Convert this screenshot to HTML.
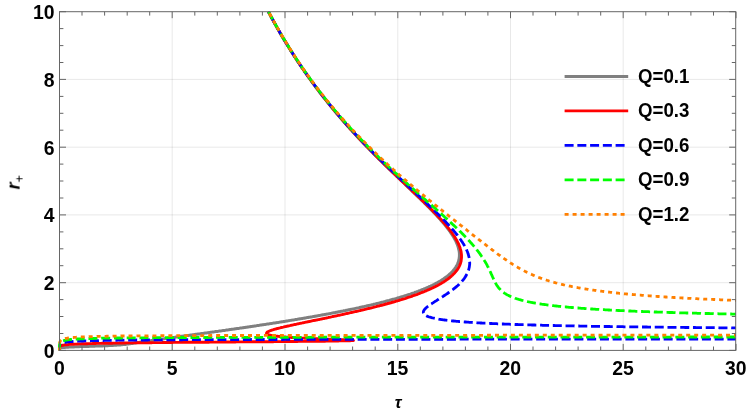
<!DOCTYPE html>
<html><head><meta charset="utf-8"><title>plot</title>
<style>
html,body{margin:0;padding:0;background:#fff;}
body{width:747px;height:413px;overflow:hidden;font-family:"Liberation Sans",sans-serif;}
svg{display:block}
text{font-family:"Liberation Sans",sans-serif;font-weight:bold;fill:#000}
</style></head><body>
<svg width="747" height="413" viewBox="0 0 747 413">
<rect width="747" height="413" fill="#fff"/>
<defs><clipPath id="c"><rect x="57.5" y="9.7" width="679.0" height="342.7"/></clipPath></defs>
<g stroke="#000" stroke-opacity="0.09" stroke-width="1"><line x1="172.2" y1="11.7" x2="172.2" y2="350.4"/><line x1="285.0" y1="11.7" x2="285.0" y2="350.4"/><line x1="397.8" y1="11.7" x2="397.8" y2="350.4"/><line x1="510.5" y1="11.7" x2="510.5" y2="350.4"/><line x1="623.2" y1="11.7" x2="623.2" y2="350.4"/><line x1="59.5" y1="282.7" x2="736.0" y2="282.7"/><line x1="59.5" y1="214.9" x2="736.0" y2="214.9"/><line x1="59.5" y1="147.2" x2="736.0" y2="147.2"/><line x1="59.5" y1="79.4" x2="736.0" y2="79.4"/></g>
<g clip-path="url(#c)" fill="none" stroke-linejoin="round">
<path d="M59.5 350.3 L59.5 349.5 L59.6 348.7 L60.1 348.2 L60.9 347.9 L61.7 347.7 L62.5 347.6 L63.3 347.5 L64.1 347.4 L64.9 347.4 L65.7 347.3 L66.5 347.3 L67.4 347.2 L68.2 347.2 L69.0 347.1 L69.8 347.1 L70.6 347.0 L71.5 347.0 L72.3 346.9 L73.1 346.9 L74.0 346.9 L74.8 346.8 L75.7 346.8 L76.6 346.8 L77.4 346.7 L78.3 346.7 L79.2 346.7 L80.0 346.6 L80.9 346.6 L81.7 346.6 L82.5 346.6 L83.4 346.5 L84.2 346.5 L85.1 346.5 L86.0 346.4 L86.9 346.4 L87.8 346.4 L88.7 346.4 L89.6 346.3 L90.6 346.3 L91.5 346.3 L92.3 346.2 L93.1 346.2 L93.9 346.2 L94.7 346.2 L95.5 346.1 L96.4 346.1 L97.4 346.1 L98.3 346.0 L99.2 346.0 L100.1 346.0 L101.0 345.9 L101.9 345.9 L102.7 345.9 L103.6 345.8 L104.4 345.8 L105.3 345.8 L106.1 345.7 L106.9 345.7 L107.8 345.7 L108.7 345.6 L109.5 345.6 L110.4 345.5 L111.2 345.5 L112.1 345.4 L112.9 345.4 L113.8 345.3 L114.6 345.3 L115.4 345.2 L116.3 345.2 L117.1 345.1 L117.9 345.1 L118.7 345.0 L119.6 344.9 L120.4 344.9 L121.3 344.8 L122.1 344.7 L123.0 344.6 L123.8 344.5 L124.6 344.4 L125.4 344.4 L126.2 344.3 L127.1 344.1 L127.9 344.0 L128.7 343.9 L129.5 343.8 L130.3 343.7 L131.1 343.6 L131.9 343.5 L132.7 343.4 L133.5 343.2 L134.3 343.1 L135.1 343.0 L136.0 342.9 L136.8 342.7 L137.6 342.6 L138.4 342.5 L139.2 342.4 L140.0 342.2 L140.8 342.1 L141.6 342.0 L142.5 341.9 L143.3 341.8 L144.1 341.6 L144.9 341.5 L145.7 341.4 L146.6 341.3 L147.4 341.1 L148.2 341.0 L149.0 340.9 L149.8 340.8 L150.7 340.7 L151.5 340.5 L152.3 340.4 L153.1 340.3 L153.9 340.2 L154.8 340.1 L155.6 339.9 L156.5 339.8 L157.3 339.7 L158.1 339.6 L158.9 339.5 L159.7 339.4 L160.6 339.2 L161.4 339.1 L162.3 339.0 L163.1 338.9 L164.0 338.8 L164.8 338.6 L165.6 338.5 L166.5 338.4 L167.3 338.3 L168.1 338.2 L169.0 338.1 L169.8 338.0 L170.7 337.8 L171.6 337.7 L172.4 337.6 L173.2 337.5 L174.0 337.4 L174.8 337.3 L175.7 337.1 L176.5 337.0 L177.3 336.9 L178.1 336.8 L179.0 336.7 L179.8 336.6 L180.7 336.5 L181.6 336.3 L182.4 336.2 L183.3 336.1 L184.2 336.0 L185.1 335.8 L186.0 335.7 L186.8 335.6 L187.6 335.5 L188.4 335.4 L189.3 335.3 L190.1 335.2 L190.9 335.0 L191.7 334.9 L192.6 334.8 L193.4 334.7 L194.3 334.6 L195.1 334.5 L196.0 334.3 L196.9 334.2 L197.8 334.1 L198.6 334.0 L199.5 333.9 L200.4 333.7 L201.3 333.6 L202.2 333.5 L203.2 333.4 L204.1 333.2 L204.9 333.1 L205.7 333.0 L206.5 332.9 L207.3 332.8 L208.1 332.7 L208.9 332.6 L209.7 332.4 L210.6 332.3 L211.4 332.2 L212.2 332.1 L213.1 332.0 L213.9 331.9 L214.8 331.7 L215.6 331.6 L216.5 331.5 L217.3 331.4 L218.2 331.3 L219.1 331.1 L220.0 331.0 L220.8 330.9 L221.7 330.8 L222.6 330.6 L223.5 330.5 L224.4 330.4 L225.3 330.3 L226.2 330.1 L227.1 330.0 L228.1 329.9 L229.0 329.7 L229.9 329.6 L230.8 329.5 L231.8 329.3 L232.7 329.2 L233.7 329.1 L234.5 329.0 L235.3 328.8 L236.1 328.7 L236.9 328.6 L237.7 328.5 L238.5 328.4 L239.3 328.3 L240.1 328.1 L240.9 328.0 L241.8 327.9 L242.6 327.8 L243.4 327.7 L244.2 327.5 L245.1 327.4 L245.9 327.3 L246.8 327.2 L247.6 327.0 L248.4 326.9 L249.3 326.8 L250.1 326.7 L251.0 326.5 L251.9 326.4 L252.7 326.3 L253.6 326.2 L254.5 326.0 L255.3 325.9 L256.2 325.8 L257.1 325.6 L258.0 325.5 L258.9 325.4 L259.7 325.2 L260.6 325.1 L261.5 325.0 L262.4 324.8 L263.3 324.7 L264.2 324.6 L265.1 324.4 L266.0 324.3 L266.9 324.1 L267.9 324.0 L268.8 323.9 L269.7 323.7 L270.6 323.6 L271.5 323.4 L272.5 323.3 L273.4 323.1 L274.3 323.0 L275.3 322.9 L276.2 322.7 L277.1 322.6 L278.1 322.4 L279.0 322.3 L280.0 322.1 L280.9 322.0 L281.9 321.8 L282.8 321.7 L283.8 321.5 L284.8 321.4 L285.7 321.2 L286.7 321.0 L287.7 320.9 L288.6 320.7 L289.6 320.6 L290.6 320.4 L291.6 320.2 L292.6 320.1 L293.5 319.9 L294.5 319.8 L295.3 319.6 L296.1 319.5 L296.9 319.4 L297.7 319.2 L298.5 319.1 L299.3 319.0 L300.1 318.8 L300.9 318.7 L301.7 318.6 L302.5 318.4 L303.3 318.3 L304.1 318.2 L304.9 318.0 L305.7 317.9 L306.5 317.7 L307.3 317.6 L308.1 317.5 L309.0 317.3 L309.8 317.2 L310.6 317.0 L311.4 316.9 L312.2 316.8 L313.0 316.6 L313.9 316.5 L314.7 316.3 L315.5 316.2 L316.3 316.0 L317.1 315.9 L318.0 315.7 L318.8 315.6 L319.6 315.4 L320.4 315.3 L321.3 315.1 L322.1 315.0 L322.9 314.8 L323.7 314.7 L324.6 314.5 L325.4 314.4 L326.2 314.2 L327.1 314.1 L327.9 313.9 L328.7 313.8 L329.6 313.6 L330.4 313.4 L331.2 313.3 L332.1 313.1 L332.9 313.0 L333.7 312.8 L334.6 312.7 L335.4 312.5 L336.3 312.3 L337.1 312.2 L337.9 312.0 L338.8 311.8 L339.6 311.7 L340.4 311.5 L341.3 311.3 L342.1 311.2 L343.0 311.0 L343.8 310.8 L344.6 310.7 L345.5 310.5 L346.3 310.3 L347.2 310.2 L348.0 310.0 L348.8 309.8 L349.7 309.6 L350.5 309.5 L351.3 309.3 L352.2 309.1 L353.0 308.9 L353.9 308.8 L354.7 308.6 L355.5 308.4 L356.4 308.2 L357.2 308.1 L358.0 307.9 L358.9 307.7 L359.7 307.5 L360.5 307.3 L361.4 307.1 L362.2 307.0 L363.0 306.8 L363.9 306.6 L364.7 306.4 L365.5 306.2 L366.4 306.0 L367.2 305.8 L368.0 305.6 L368.8 305.5 L369.7 305.3 L370.5 305.1 L371.3 304.9 L372.1 304.7 L373.0 304.5 L373.8 304.3 L374.6 304.1 L375.4 303.9 L376.2 303.7 L377.0 303.5 L377.9 303.3 L378.7 303.1 L379.5 302.9 L380.3 302.7 L381.1 302.5 L381.9 302.3 L382.7 302.1 L383.5 301.9 L384.3 301.7 L385.1 301.5 L385.9 301.2 L386.7 301.0 L387.5 300.8 L388.3 300.6 L389.1 300.4 L389.8 300.2 L390.6 300.0 L391.4 299.8 L392.2 299.5 L393.0 299.3 L393.8 299.1 L394.5 298.9 L395.3 298.7 L396.3 298.4 L397.2 298.1 L398.2 297.8 L399.1 297.6 L400.1 297.3 L401.0 297.0 L401.9 296.7 L402.9 296.4 L403.8 296.1 L404.7 295.8 L405.6 295.6 L406.6 295.3 L407.5 295.0 L408.4 294.7 L409.3 294.4 L410.2 294.1 L411.0 293.8 L411.9 293.5 L412.8 293.2 L413.7 292.9 L414.5 292.6 L415.4 292.2 L416.3 291.9 L417.1 291.6 L418.0 291.3 L418.8 291.0 L419.6 290.7 L420.5 290.4 L421.3 290.0 L422.1 289.7 L422.9 289.4 L423.7 289.1 L424.5 288.7 L425.3 288.4 L426.0 288.1 L426.8 287.7 L427.6 287.4 L428.3 287.1 L429.1 286.7 L429.8 286.4 L430.6 286.1 L431.3 285.7 L432.2 285.3 L433.0 284.9 L433.9 284.5 L434.7 284.0 L435.5 283.6 L436.3 283.2 L437.1 282.8 L437.9 282.3 L438.7 281.9 L439.4 281.4 L440.2 281.0 L440.9 280.6 L441.6 280.1 L442.4 279.7 L443.1 279.2 L443.7 278.8 L444.4 278.3 L445.1 277.8 L445.8 277.3 L446.5 276.7 L447.3 276.2 L448.0 275.6 L448.6 275.1 L449.3 274.5 L449.9 273.9 L450.5 273.4 L451.1 272.8 L451.7 272.2 L452.3 271.6 L452.9 271.0 L453.5 270.3 L454.0 269.6 L454.6 268.9 L455.1 268.2 L455.6 267.5 L456.0 266.8 L456.4 266.1 L456.8 265.4 L457.2 264.6 L457.6 263.9 L457.9 263.2 L458.2 262.3 L458.5 261.5 L458.7 260.6 L458.9 259.7 L459.1 258.9 L459.2 258.0 L459.3 257.1 L459.4 256.3 L459.4 255.5 L459.4 254.7 L459.4 253.9 L459.4 253.0 L459.3 252.2 L459.2 251.4 L459.0 250.5 L458.8 249.7 L458.6 248.8 L458.4 247.9 L458.2 247.1 L457.9 246.3 L457.6 245.5 L457.4 244.7 L457.0 243.9 L456.7 243.1 L456.3 242.3 L456.0 241.5 L455.6 240.7 L455.2 239.9 L454.8 239.2 L454.4 238.5 L454.0 237.8 L453.6 237.0 L453.1 236.3 L452.7 235.6 L452.2 234.8 L451.7 234.1 L451.2 233.4 L450.7 232.6 L450.2 231.8 L449.6 231.1 L449.1 230.3 L448.5 229.6 L448.0 228.9 L447.5 228.3 L447.0 227.6 L446.5 227.0 L446.0 226.3 L445.5 225.6 L444.9 225.0 L444.4 224.3 L443.8 223.6 L443.2 222.9 L442.7 222.3 L442.1 221.6 L441.5 220.9 L440.9 220.2 L440.3 219.5 L439.6 218.8 L439.0 218.1 L438.4 217.4 L437.7 216.7 L437.1 216.0 L436.4 215.3 L435.7 214.5 L435.0 213.8 L434.5 213.2 L433.9 212.6 L433.4 212.1 L432.8 211.5 L432.2 210.9 L431.6 210.3 L431.1 209.7 L430.5 209.1 L429.9 208.5 L429.3 207.9 L428.7 207.3 L428.1 206.7 L427.5 206.0 L426.9 205.4 L426.2 204.8 L425.6 204.2 L425.0 203.6 L424.3 202.9 L423.7 202.3 L423.1 201.7 L422.4 201.0 L421.8 200.4 L421.1 199.8 L420.5 199.1 L419.8 198.5 L419.1 197.8 L418.4 197.2 L417.8 196.5 L417.1 195.9 L416.4 195.2 L415.7 194.5 L415.0 193.9 L414.3 193.2 L413.6 192.5 L412.9 191.9 L412.2 191.2 L411.5 190.5 L410.8 189.8 L410.1 189.1 L409.4 188.4 L408.7 187.8 L407.9 187.1 L407.2 186.4 L406.5 185.7 L405.7 185.0 L405.0 184.3 L404.2 183.5 L403.5 182.8 L402.8 182.1 L402.0 181.4 L401.2 180.7 L400.5 180.0 L399.7 179.2 L399.0 178.5 L398.2 177.8 L397.4 177.0 L396.9 176.5 L396.3 175.9 L395.7 175.4 L395.1 174.8 L394.5 174.2 L394.0 173.7 L393.4 173.1 L392.8 172.5 L392.2 172.0 L391.6 171.4 L391.0 170.8 L390.4 170.3 L389.8 169.7 L389.2 169.1 L388.6 168.5 L388.0 167.9 L387.4 167.4 L386.8 166.8 L386.2 166.2 L385.6 165.6 L385.0 165.0 L384.4 164.4 L383.8 163.8 L383.2 163.2 L382.6 162.6 L382.0 162.0 L381.4 161.4 L380.8 160.8 L380.2 160.2 L379.6 159.6 L378.9 159.0 L378.3 158.4 L377.7 157.8 L377.1 157.1 L376.5 156.5 L375.9 155.9 L375.2 155.3 L374.6 154.7 L374.0 154.0 L373.4 153.4 L372.8 152.8 L372.1 152.1 L371.5 151.5 L370.9 150.9 L370.3 150.2 L369.6 149.6 L369.0 148.9 L368.4 148.3 L367.8 147.7 L367.1 147.0 L366.5 146.4 L365.9 145.7 L365.3 145.0 L364.6 144.4 L364.0 143.7 L363.4 143.1 L362.7 142.4 L362.1 141.7 L361.5 141.1 L360.8 140.4 L360.2 139.7 L359.6 139.1 L358.9 138.4 L358.3 137.7 L357.7 137.0 L357.0 136.3 L356.4 135.7 L355.8 135.0 L355.1 134.3 L354.5 133.6 L353.9 132.9 L353.2 132.2 L352.6 131.5 L352.0 130.8 L351.3 130.1 L350.7 129.4 L350.0 128.7 L349.4 128.0 L348.8 127.3 L348.1 126.6 L347.5 125.8 L346.9 125.1 L346.2 124.4 L345.6 123.7 L344.9 122.9 L344.3 122.2 L343.7 121.5 L343.0 120.8 L342.4 120.0 L341.7 119.3 L341.1 118.5 L340.5 117.8 L339.8 117.1 L339.2 116.3 L338.6 115.6 L337.9 114.8 L337.3 114.1 L336.6 113.3 L336.0 112.5 L335.4 111.8 L334.7 111.0 L334.1 110.3 L333.5 109.5 L332.8 108.7 L332.2 107.9 L331.5 107.2 L330.9 106.4 L330.3 105.6 L329.6 104.8 L329.0 104.0 L328.4 103.3 L327.7 102.5 L327.1 101.7 L326.5 100.9 L325.8 100.1 L325.2 99.3 L324.6 98.5 L323.9 97.7 L323.3 96.9 L322.7 96.0 L322.0 95.2 L321.4 94.4 L320.8 93.6 L320.1 92.8 L319.5 92.0 L318.9 91.1 L318.2 90.3 L317.6 89.5 L317.0 88.6 L316.3 87.8 L315.7 87.0 L315.1 86.1 L314.5 85.3 L313.8 84.4 L313.2 83.6 L312.6 82.7 L312.0 81.9 L311.3 81.0 L310.7 80.1 L310.1 79.3 L309.5 78.4 L308.8 77.5 L308.2 76.7 L307.6 75.8 L307.0 74.9 L306.4 74.0 L305.7 73.1 L305.1 72.3 L304.5 71.4 L303.9 70.5 L303.3 69.6 L302.6 68.7 L302.0 67.8 L301.4 66.9 L300.8 66.0 L300.2 65.1 L299.6 64.1 L299.0 63.2 L298.3 62.3 L297.7 61.4 L297.1 60.5 L296.5 59.5 L295.9 58.6 L295.3 57.7 L294.7 56.7 L294.1 55.8 L293.5 54.8 L292.9 53.9 L292.3 53.0 L291.7 52.0 L291.1 51.0 L290.5 50.1 L289.9 49.1 L289.3 48.2 L288.7 47.2 L288.1 46.2 L287.5 45.3 L286.9 44.3 L286.3 43.3 L285.7 42.3 L285.1 41.3 L284.5 40.3 L283.9 39.4 L283.3 38.4 L282.7 37.4 L282.1 36.4 L281.5 35.4 L280.9 34.3 L280.3 33.3 L279.7 32.3 L279.2 31.3 L278.6 30.3 L278.0 29.3 L277.4 28.2 L276.8 27.2 L276.2 26.2 L275.7 25.1 L275.1 24.1 L274.5 23.0 L273.9 22.0 L273.3 20.9 L273.0 20.2 L272.6 19.5 L272.2 18.8 L271.8 18.1 L271.4 17.4 L271.0 16.7 L270.7 16.0 L270.3 15.3 L269.9 14.6 L269.5 13.9 L269.1 13.1 L268.8 12.4 L268.4 11.7" stroke="#808080" stroke-width="3.0"/>
<path d="M59.5 350.3 L59.5 349.5 L59.5 348.7 L59.5 347.9 L59.6 347.1 L60.0 346.4 L60.6 345.9 L61.4 345.6 L62.1 345.4 L62.9 345.2 L63.7 345.1 L64.5 344.9 L65.4 344.8 L66.2 344.7 L67.1 344.7 L67.9 344.6 L68.7 344.5 L69.5 344.4 L70.3 344.4 L71.2 344.3 L72.1 344.3 L73.0 344.2 L73.8 344.2 L74.8 344.1 L75.6 344.1 L76.5 344.1 L77.4 344.0 L78.2 344.0 L79.1 343.9 L80.0 343.9 L80.9 343.9 L81.9 343.8 L82.7 343.8 L83.6 343.8 L84.5 343.8 L85.4 343.7 L86.3 343.7 L87.3 343.7 L88.4 343.6 L89.4 343.6 L90.3 343.6 L91.1 343.6 L92.0 343.6 L92.9 343.5 L93.8 343.5 L94.8 343.5 L95.7 343.5 L96.8 343.4 L97.8 343.4 L98.9 343.4 L100.0 343.4 L101.1 343.4 L102.2 343.3 L103.4 343.3 L104.2 343.3 L105.1 343.3 L105.9 343.3 L106.8 343.2 L107.6 343.2 L108.5 343.2 L109.4 343.2 L110.4 343.2 L111.3 343.2 L112.2 343.2 L113.2 343.1 L114.2 343.1 L115.2 343.1 L116.2 343.1 L117.3 343.1 L118.3 343.1 L119.4 343.0 L120.5 343.0 L121.6 343.0 L122.8 343.0 L123.9 343.0 L125.1 343.0 L126.3 342.9 L127.5 342.9 L128.8 342.9 L130.0 342.9 L131.3 342.9 L132.6 342.9 L133.9 342.9 L135.3 342.8 L136.6 342.8 L138.0 342.8 L139.4 342.8 L140.9 342.8 L142.3 342.8 L143.8 342.7 L145.3 342.7 L146.8 342.7 L148.4 342.7 L150.0 342.7 L151.6 342.7 L152.4 342.6 L153.2 342.6 L154.0 342.6 L154.8 342.6 L155.6 342.6 L156.5 342.6 L157.3 342.6 L158.2 342.6 L159.0 342.6 L159.9 342.6 L160.7 342.6 L161.6 342.6 L162.5 342.5 L163.4 342.5 L164.3 342.5 L165.1 342.5 L166.0 342.5 L166.9 342.5 L167.9 342.5 L168.8 342.5 L169.7 342.5 L170.6 342.5 L171.6 342.5 L172.5 342.5 L173.4 342.4 L174.4 342.4 L175.4 342.4 L176.3 342.4 L177.3 342.4 L178.3 342.4 L179.2 342.4 L180.2 342.4 L181.2 342.4 L182.2 342.4 L183.2 342.4 L184.2 342.4 L185.2 342.3 L186.2 342.3 L187.3 342.3 L188.3 342.3 L189.3 342.3 L190.4 342.3 L191.4 342.3 L192.5 342.3 L193.5 342.3 L194.6 342.3 L195.6 342.3 L196.7 342.3 L197.8 342.2 L198.9 342.2 L199.9 342.2 L201.0 342.2 L202.1 342.2 L203.2 342.2 L204.3 342.2 L205.4 342.2 L206.5 342.2 L207.6 342.2 L208.7 342.2 L209.9 342.1 L211.0 342.1 L212.1 342.1 L213.3 342.1 L214.4 342.1 L215.5 342.1 L216.7 342.1 L217.8 342.1 L219.0 342.1 L220.1 342.1 L221.3 342.1 L222.4 342.0 L223.6 342.0 L224.7 342.0 L225.9 342.0 L227.1 342.0 L228.2 342.0 L229.4 342.0 L230.6 342.0 L231.8 342.0 L232.9 342.0 L234.1 342.0 L235.3 342.0 L236.5 341.9 L237.7 341.9 L238.9 341.9 L240.0 341.9 L241.2 341.9 L242.4 341.9 L243.6 341.9 L244.8 341.9 L246.0 341.9 L247.2 341.9 L248.4 341.9 L249.5 341.8 L250.7 341.8 L251.9 341.8 L253.1 341.8 L254.3 341.8 L255.5 341.8 L256.7 341.8 L257.8 341.8 L259.0 341.8 L260.2 341.8 L261.4 341.8 L262.6 341.7 L263.7 341.7 L264.9 341.7 L266.1 341.7 L267.3 341.7 L268.4 341.7 L269.6 341.7 L270.7 341.7 L271.9 341.7 L273.1 341.7 L274.2 341.6 L275.4 341.6 L276.5 341.6 L277.6 341.6 L278.8 341.6 L279.9 341.6 L281.0 341.6 L282.1 341.6 L283.3 341.6 L284.4 341.6 L285.5 341.6 L286.6 341.5 L287.7 341.5 L288.8 341.5 L289.9 341.5 L290.9 341.5 L292.0 341.5 L293.1 341.5 L294.1 341.5 L295.2 341.5 L296.2 341.5 L297.3 341.5 L298.3 341.4 L299.4 341.4 L300.4 341.4 L301.4 341.4 L302.4 341.4 L303.4 341.4 L304.4 341.4 L305.4 341.4 L306.3 341.4 L307.3 341.4 L308.3 341.3 L309.2 341.3 L310.2 341.3 L311.1 341.3 L312.0 341.3 L312.9 341.3 L313.8 341.3 L314.7 341.3 L315.6 341.3 L316.5 341.3 L317.4 341.2 L318.2 341.2 L319.1 341.2 L319.9 341.2 L320.8 341.2 L321.6 341.2 L322.4 341.2 L323.2 341.2 L324.8 341.2 L326.3 341.1 L327.8 341.1 L329.3 341.1 L330.7 341.1 L332.1 341.1 L333.4 341.0 L334.7 341.0 L335.9 341.0 L337.1 341.0 L338.3 341.0 L339.4 340.9 L340.5 340.9 L341.5 340.9 L342.5 340.9 L343.4 340.9 L344.3 340.8 L345.2 340.8 L346.0 340.8 L347.1 340.8 L348.1 340.7 L349.1 340.7 L350.0 340.7 L351.0 340.6 L351.8 340.6 L352.7 340.5 L353.5 340.5 L352.7 340.1 L351.9 340.1 L351.0 340.0 L350.1 340.0 L349.2 339.9 L348.3 339.9 L347.3 339.8 L346.3 339.8 L345.3 339.7 L344.4 339.7 L343.6 339.7 L342.7 339.6 L341.8 339.6 L340.9 339.6 L340.0 339.5 L339.1 339.5 L338.1 339.5 L337.2 339.4 L336.2 339.4 L335.2 339.4 L334.3 339.3 L333.3 339.3 L332.3 339.3 L331.3 339.2 L330.3 339.2 L329.3 339.2 L328.3 339.1 L327.3 339.1 L326.3 339.0 L325.3 339.0 L324.3 339.0 L323.3 338.9 L322.3 338.9 L321.3 338.9 L320.3 338.8 L319.3 338.8 L318.4 338.7 L317.4 338.7 L316.4 338.7 L315.5 338.6 L314.5 338.6 L313.6 338.6 L312.7 338.5 L311.8 338.5 L310.8 338.4 L309.9 338.4 L309.1 338.4 L308.2 338.3 L307.3 338.3 L306.4 338.3 L305.6 338.2 L304.7 338.2 L303.9 338.1 L303.1 338.1 L302.2 338.1 L301.4 338.0 L300.4 338.0 L299.3 337.9 L298.3 337.9 L297.3 337.8 L296.3 337.8 L295.4 337.7 L294.4 337.6 L293.5 337.6 L292.6 337.5 L291.7 337.5 L290.8 337.4 L290.0 337.4 L289.2 337.3 L288.3 337.3 L287.4 337.2 L286.4 337.1 L285.5 337.0 L284.5 337.0 L283.7 336.9 L282.8 336.8 L282.0 336.8 L281.2 336.7 L280.3 336.6 L279.4 336.5 L278.5 336.4 L277.7 336.3 L276.8 336.2 L275.9 336.1 L275.1 336.0 L274.2 335.9 L273.4 335.8 L272.5 335.6 L271.7 335.5 L270.9 335.3 L270.1 335.1 L269.3 334.9 L268.5 334.7 L267.8 334.4 L267.1 334.1 L266.5 333.5 L266.7 332.7 L267.3 332.1 L268.0 331.7 L268.8 331.3 L269.5 331.0 L270.3 330.7 L271.0 330.5 L271.8 330.2 L272.7 329.9 L273.4 329.7 L274.3 329.4 L275.0 329.2 L275.8 329.0 L276.7 328.7 L277.5 328.5 L278.3 328.3 L279.1 328.1 L280.0 327.9 L280.7 327.7 L281.5 327.5 L282.3 327.3 L283.2 327.1 L284.0 326.9 L284.9 326.7 L285.8 326.5 L286.5 326.3 L287.3 326.2 L288.1 326.0 L288.9 325.8 L289.8 325.6 L290.6 325.4 L291.5 325.2 L292.3 325.1 L293.2 324.9 L294.1 324.7 L295.0 324.5 L295.9 324.3 L296.7 324.1 L297.5 323.9 L298.3 323.8 L299.1 323.6 L299.9 323.4 L300.7 323.3 L301.5 323.1 L302.4 322.9 L303.2 322.7 L304.1 322.6 L304.9 322.4 L305.8 322.2 L306.7 322.0 L307.5 321.8 L308.4 321.7 L309.3 321.5 L310.2 321.3 L311.1 321.1 L312.0 320.9 L312.9 320.7 L313.8 320.5 L314.8 320.3 L315.7 320.2 L316.6 320.0 L317.4 319.8 L318.2 319.6 L319.0 319.5 L319.8 319.3 L320.6 319.1 L321.4 319.0 L322.2 318.8 L323.0 318.6 L323.8 318.5 L324.7 318.3 L325.5 318.1 L326.3 318.0 L327.1 317.8 L328.0 317.6 L328.8 317.4 L329.6 317.3 L330.5 317.1 L331.3 316.9 L332.2 316.7 L333.0 316.5 L333.9 316.4 L334.7 316.2 L335.6 316.0 L336.4 315.8 L337.3 315.6 L338.2 315.4 L339.0 315.3 L339.9 315.1 L340.8 314.9 L341.7 314.7 L342.5 314.5 L343.4 314.3 L344.3 314.1 L345.2 313.9 L346.1 313.7 L347.0 313.5 L347.9 313.3 L348.8 313.1 L349.6 312.9 L350.5 312.7 L351.4 312.5 L352.3 312.3 L353.2 312.1 L354.1 311.9 L355.1 311.7 L356.0 311.5 L356.9 311.3 L357.8 311.1 L358.7 310.9 L359.6 310.7 L360.5 310.5 L361.4 310.2 L362.3 310.0 L363.2 309.8 L364.2 309.6 L365.1 309.4 L366.0 309.2 L366.9 308.9 L367.8 308.7 L368.7 308.5 L369.7 308.3 L370.6 308.1 L371.5 307.8 L372.4 307.6 L373.3 307.4 L374.2 307.1 L375.2 306.9 L376.1 306.7 L377.0 306.4 L377.9 306.2 L378.8 306.0 L379.7 305.7 L380.7 305.5 L381.6 305.3 L382.5 305.0 L383.4 304.8 L384.3 304.5 L385.2 304.3 L386.1 304.0 L387.0 303.8 L387.9 303.5 L388.9 303.3 L389.8 303.0 L390.7 302.8 L391.6 302.5 L392.5 302.3 L393.4 302.0 L394.3 301.8 L395.1 301.5 L396.0 301.2 L396.9 301.0 L397.8 300.7 L398.7 300.5 L399.6 300.2 L400.5 299.9 L401.3 299.7 L402.2 299.4 L403.1 299.1 L404.0 298.8 L404.8 298.6 L405.7 298.3 L406.5 298.0 L407.4 297.7 L408.2 297.4 L409.1 297.2 L409.9 296.9 L410.8 296.6 L411.6 296.3 L412.5 296.0 L413.3 295.7 L414.1 295.4 L414.9 295.1 L415.8 294.8 L416.6 294.6 L417.4 294.3 L418.2 294.0 L419.0 293.7 L419.8 293.3 L420.6 293.0 L421.4 292.7 L422.1 292.4 L422.9 292.1 L423.7 291.8 L424.5 291.5 L425.2 291.2 L426.0 290.9 L426.7 290.5 L427.5 290.2 L428.2 289.9 L428.9 289.6 L429.8 289.2 L430.7 288.8 L431.5 288.4 L432.4 288.0 L433.2 287.6 L434.0 287.2 L434.9 286.8 L435.7 286.4 L436.5 286.0 L437.3 285.6 L438.0 285.2 L438.8 284.7 L439.6 284.3 L440.3 283.9 L441.0 283.5 L441.8 283.0 L442.5 282.6 L443.2 282.2 L443.9 281.7 L444.6 281.3 L445.2 280.9 L446.0 280.3 L446.7 279.8 L447.5 279.3 L448.2 278.8 L448.9 278.2 L449.6 277.7 L450.2 277.1 L450.9 276.6 L451.5 276.0 L452.1 275.5 L452.7 274.9 L453.3 274.3 L453.9 273.7 L454.6 273.0 L455.1 272.4 L455.7 271.7 L456.2 271.0 L456.8 270.4 L457.3 269.7 L457.7 269.0 L458.2 268.3 L458.6 267.6 L459.0 266.9 L459.4 266.1 L459.7 265.3 L460.1 264.4 L460.4 263.6 L460.6 262.8 L460.9 261.9 L461.1 261.1 L461.2 260.2 L461.3 259.4 L461.4 258.5 L461.5 257.6 L461.5 256.7 L461.5 255.9 L461.5 255.1 L461.4 254.3 L461.3 253.5 L461.2 252.6 L461.1 251.8 L460.9 250.9 L460.7 250.1 L460.4 249.2 L460.2 248.4 L459.9 247.6 L459.7 246.8 L459.4 246.1 L459.1 245.3 L458.7 244.5 L458.4 243.7 L458.0 242.9 L457.6 242.1 L457.2 241.3 L456.8 240.5 L456.4 239.8 L456.0 239.1 L455.5 238.4 L455.1 237.6 L454.7 236.9 L454.2 236.2 L453.7 235.5 L453.2 234.7 L452.7 234.0 L452.2 233.2 L451.7 232.5 L451.1 231.7 L450.5 231.0 L450.0 230.2 L449.5 229.6 L449.0 228.9 L448.5 228.3 L447.9 227.6 L447.4 227.0 L446.9 226.3 L446.3 225.6 L445.8 225.0 L445.2 224.3 L444.6 223.6 L444.0 222.9 L443.4 222.3 L442.8 221.6 L442.2 220.9 L441.6 220.2 L441.0 219.5 L440.3 218.8 L439.7 218.1 L439.0 217.4 L438.4 216.7 L437.7 216.0 L437.0 215.3 L436.3 214.5 L435.8 214.0 L435.2 213.4 L434.7 212.8 L434.1 212.2 L433.5 211.6 L432.9 211.0 L432.3 210.4 L431.8 209.8 L431.2 209.2 L430.6 208.6 L430.0 208.0 L429.3 207.4 L428.7 206.8 L428.1 206.2 L427.5 205.6 L426.9 205.0 L426.2 204.3 L425.6 203.7 L425.0 203.1 L424.3 202.5 L423.7 201.8 L423.0 201.2 L422.4 200.6 L421.7 199.9 L421.0 199.3 L420.4 198.6 L419.7 198.0 L419.0 197.3 L418.3 196.7 L417.6 196.0 L417.0 195.4 L416.3 194.7 L415.6 194.0 L414.9 193.4 L414.2 192.7 L413.5 192.0 L412.7 191.4 L412.0 190.7 L411.3 190.0 L410.6 189.3 L409.9 188.6 L409.1 187.9 L408.4 187.2 L407.7 186.5 L406.9 185.8 L406.2 185.1 L405.5 184.4 L404.7 183.7 L404.0 183.0 L403.2 182.3 L402.5 181.6 L401.7 180.9 L400.9 180.1 L400.2 179.4 L399.4 178.7 L398.6 177.9 L397.9 177.2 L397.3 176.7 L396.7 176.1 L396.1 175.5 L395.5 175.0 L395.0 174.4 L394.4 173.9 L393.8 173.3 L393.2 172.7 L392.6 172.2 L392.0 171.6 L391.4 171.0 L390.8 170.4 L390.2 169.9 L389.6 169.3 L389.0 168.7 L388.4 168.1 L387.8 167.5 L387.2 167.0 L386.6 166.4 L386.0 165.8 L385.4 165.2 L384.8 164.6 L384.2 164.0 L383.6 163.4 L383.0 162.8 L382.4 162.2 L381.8 161.6 L381.1 161.0 L380.5 160.4 L379.9 159.8 L379.3 159.2 L378.7 158.6 L378.1 158.0 L377.5 157.3 L376.8 156.7 L376.2 156.1 L375.6 155.5 L375.0 154.9 L374.4 154.2 L373.7 153.6 L373.1 153.0 L372.5 152.3 L371.9 151.7 L371.2 151.1 L370.6 150.4 L370.0 149.8 L369.4 149.2 L368.7 148.5 L368.1 147.9 L367.5 147.2 L366.8 146.6 L366.2 145.9 L365.6 145.3 L365.0 144.6 L364.3 144.0 L363.7 143.3 L363.1 142.6 L362.4 142.0 L361.8 141.3 L361.2 140.6 L360.5 140.0 L359.9 139.3 L359.3 138.6 L358.6 137.9 L358.0 137.3 L357.4 136.6 L356.7 135.9 L356.1 135.2 L355.4 134.5 L354.8 133.8 L354.2 133.1 L353.5 132.4 L352.9 131.7 L352.3 131.0 L351.6 130.3 L351.0 129.6 L350.3 128.9 L349.7 128.2 L349.1 127.5 L348.4 126.8 L347.8 126.1 L347.1 125.4 L346.5 124.6 L345.9 123.9 L345.2 123.2 L344.6 122.5 L343.9 121.7 L343.3 121.0 L342.7 120.3 L342.0 119.5 L341.4 118.8 L340.8 118.1 L340.1 117.3 L339.5 116.6 L338.8 115.8 L338.2 115.1 L337.6 114.3 L336.9 113.6 L336.3 112.8 L335.6 112.0 L335.0 111.3 L334.4 110.5 L333.7 109.7 L333.1 109.0 L332.4 108.2 L331.8 107.4 L331.2 106.7 L330.5 105.9 L329.9 105.1 L329.3 104.3 L328.6 103.5 L328.0 102.7 L327.4 101.9 L326.7 101.1 L326.1 100.3 L325.4 99.5 L324.8 98.7 L324.2 97.9 L323.5 97.1 L322.9 96.3 L322.3 95.5 L321.6 94.7 L321.0 93.9 L320.4 93.1 L319.7 92.2 L319.1 91.4 L318.5 90.6 L317.9 89.7 L317.2 88.9 L316.6 88.1 L316.0 87.2 L315.3 86.4 L314.7 85.5 L314.1 84.7 L313.5 83.8 L312.8 83.0 L312.2 82.1 L311.6 81.3 L311.0 80.4 L310.3 79.6 L309.7 78.7 L309.1 77.8 L308.5 76.9 L307.8 76.1 L307.2 75.2 L306.6 74.3 L306.0 73.4 L305.4 72.5 L304.7 71.7 L304.1 70.8 L303.5 69.9 L302.9 69.0 L302.3 68.1 L301.6 67.2 L301.0 66.3 L300.4 65.4 L299.8 64.4 L299.2 63.5 L298.6 62.6 L298.0 61.7 L297.4 60.8 L296.7 59.8 L296.1 58.9 L295.5 58.0 L294.9 57.0 L294.3 56.1 L293.7 55.2 L293.1 54.2 L292.5 53.3 L291.9 52.3 L291.3 51.4 L290.7 50.4 L290.1 49.5 L289.5 48.5 L288.9 47.5 L288.3 46.6 L287.7 45.6 L287.1 44.6 L286.5 43.6 L285.9 42.6 L285.3 41.7 L284.7 40.7 L284.1 39.7 L283.5 38.7 L282.9 37.7 L282.3 36.7 L281.7 35.7 L281.1 34.7 L280.5 33.7 L280.0 32.7 L279.4 31.6 L278.8 30.6 L278.2 29.6 L277.6 28.6 L277.0 27.5 L276.5 26.5 L275.9 25.5 L275.3 24.4 L274.7 23.4 L274.1 22.3 L273.6 21.3 L273.2 20.6 L272.8 19.9 L272.4 19.2 L272.0 18.5 L271.6 17.8 L271.2 17.1 L270.9 16.4 L270.5 15.6 L270.1 14.9 L269.7 14.2 L269.3 13.5 L269.0 12.8 L268.6 12.1 L268.4 11.7" stroke="#ff0000" stroke-width="2.9"/>
<path d="M736.0 327.9 L735.0 327.9 L734.0 327.9 L733.0 327.9 L732.0 327.9 L731.0 327.8 L730.0 327.8 L729.0 327.8 L728.0 327.8 L727.0 327.8 L726.0 327.8 L725.1 327.8 L724.1 327.8 L723.1 327.8 L722.2 327.8 L721.2 327.8 L720.2 327.8 L719.3 327.8 L718.3 327.7 L717.4 327.7 L716.5 327.7 L715.5 327.7 L714.6 327.7 L713.7 327.7 L712.7 327.7 L711.8 327.7 L710.9 327.7 L710.0 327.7 L709.1 327.7 L708.2 327.7 L707.3 327.7 L706.4 327.6 L705.5 327.6 L704.6 327.6 L703.7 327.6 L702.8 327.6 L702.0 327.6 L701.1 327.6 L700.2 327.6 L699.3 327.6 L698.5 327.6 L697.6 327.6 L696.7 327.6 L695.9 327.6 L695.0 327.5 L694.2 327.5 L693.3 327.5 L692.5 327.5 L691.7 327.5 L690.8 327.5 L690.0 327.5 L689.2 327.5 L688.3 327.5 L687.5 327.5 L686.7 327.5 L685.9 327.5 L685.1 327.5 L684.2 327.4 L683.4 327.4 L682.6 327.4 L681.8 327.4 L680.2 327.4 L678.7 327.4 L677.1 327.4 L675.5 327.4 L674.0 327.3 L672.5 327.3 L670.9 327.3 L669.4 327.3 L667.9 327.3 L666.4 327.3 L664.9 327.2 L663.5 327.2 L662.0 327.2 L660.6 327.2 L659.1 327.2 L657.7 327.2 L656.3 327.2 L654.9 327.1 L653.5 327.1 L652.1 327.1 L650.8 327.1 L649.4 327.1 L648.0 327.1 L646.7 327.0 L645.4 327.0 L644.0 327.0 L642.7 327.0 L641.4 327.0 L640.1 327.0 L638.8 326.9 L637.5 326.9 L636.3 326.9 L635.0 326.9 L633.8 326.9 L632.5 326.9 L631.3 326.9 L630.1 326.8 L628.8 326.8 L627.6 326.8 L626.4 326.8 L625.2 326.8 L624.0 326.8 L622.9 326.7 L621.7 326.7 L620.5 326.7 L619.4 326.7 L618.2 326.7 L617.1 326.7 L616.0 326.6 L614.8 326.6 L613.7 326.6 L612.6 326.6 L611.5 326.6 L610.4 326.6 L609.3 326.5 L608.3 326.5 L607.2 326.5 L606.1 326.5 L605.1 326.5 L604.0 326.5 L603.0 326.5 L601.9 326.4 L600.9 326.4 L599.9 326.4 L598.9 326.4 L597.9 326.4 L596.9 326.4 L595.9 326.3 L594.9 326.3 L593.9 326.3 L592.9 326.3 L591.9 326.3 L591.0 326.3 L590.0 326.2 L589.0 326.2 L588.1 326.2 L587.2 326.2 L586.2 326.2 L585.3 326.2 L584.4 326.1 L583.4 326.1 L582.5 326.1 L581.6 326.1 L580.7 326.1 L579.8 326.1 L578.9 326.0 L578.1 326.0 L577.2 326.0 L576.3 326.0 L575.4 326.0 L574.6 326.0 L573.7 325.9 L572.9 325.9 L572.0 325.9 L571.2 325.9 L570.3 325.9 L569.5 325.9 L568.7 325.8 L567.8 325.8 L567.0 325.8 L566.2 325.8 L565.4 325.8 L564.6 325.8 L563.4 325.7 L562.2 325.7 L561.1 325.7 L559.9 325.7 L558.7 325.6 L557.6 325.6 L556.5 325.6 L555.3 325.6 L554.2 325.5 L553.1 325.5 L552.0 325.5 L550.9 325.5 L549.9 325.4 L548.8 325.4 L547.7 325.4 L546.7 325.4 L545.7 325.3 L544.6 325.3 L543.6 325.3 L542.6 325.3 L541.6 325.2 L540.6 325.2 L539.6 325.2 L538.6 325.2 L537.7 325.1 L536.7 325.1 L535.8 325.1 L534.8 325.0 L533.9 325.0 L532.9 325.0 L532.0 325.0 L531.1 324.9 L530.2 324.9 L529.3 324.9 L528.4 324.9 L527.5 324.8 L526.6 324.8 L525.8 324.8 L524.9 324.8 L524.1 324.7 L523.2 324.7 L522.4 324.7 L521.5 324.7 L520.7 324.6 L519.9 324.6 L519.1 324.6 L518.3 324.6 L517.5 324.5 L516.4 324.5 L515.4 324.5 L514.3 324.4 L513.3 324.4 L512.3 324.4 L511.3 324.3 L510.3 324.3 L509.3 324.2 L508.3 324.2 L507.4 324.2 L506.4 324.1 L505.5 324.1 L504.6 324.1 L503.6 324.0 L502.7 324.0 L501.8 324.0 L500.9 323.9 L500.0 323.9 L499.2 323.9 L498.3 323.8 L497.4 323.8 L496.6 323.7 L495.8 323.7 L494.9 323.7 L494.1 323.6 L493.3 323.6 L492.5 323.6 L491.5 323.5 L490.5 323.5 L489.5 323.4 L488.6 323.4 L487.6 323.3 L486.7 323.3 L485.8 323.2 L484.9 323.2 L484.0 323.2 L483.1 323.1 L482.2 323.1 L481.4 323.0 L480.5 323.0 L479.7 322.9 L478.8 322.9 L478.0 322.8 L477.2 322.8 L476.4 322.7 L475.4 322.7 L474.5 322.6 L473.6 322.6 L472.7 322.5 L471.8 322.4 L470.9 322.4 L470.0 322.3 L469.2 322.3 L468.3 322.2 L467.5 322.2 L466.7 322.1 L465.9 322.0 L465.0 322.0 L464.1 321.9 L463.2 321.8 L462.3 321.8 L461.4 321.7 L460.6 321.6 L459.8 321.6 L459.0 321.5 L458.1 321.4 L457.2 321.4 L456.4 321.3 L455.5 321.2 L454.7 321.1 L453.8 321.0 L453.0 321.0 L452.2 320.9 L451.3 320.8 L450.5 320.7 L449.6 320.6 L448.8 320.5 L448.0 320.4 L447.2 320.3 L446.3 320.2 L445.5 320.1 L444.7 320.0 L443.8 319.9 L443.0 319.8 L442.2 319.7 L441.3 319.6 L440.5 319.4 L439.7 319.3 L438.9 319.2 L438.1 319.0 L437.2 318.9 L436.4 318.7 L435.6 318.6 L434.8 318.4 L434.0 318.2 L433.2 318.0 L432.3 317.8 L431.6 317.6 L430.8 317.4 L430.0 317.2 L429.2 317.0 L428.4 316.7 L427.7 316.4 L426.9 316.1 L426.2 315.7 L425.5 315.3 L424.8 314.8 L424.2 314.3 L423.7 313.6 L423.4 312.9 L423.3 312.1 L423.5 311.3 L423.8 310.6 L424.3 309.9 L424.7 309.2 L425.3 308.6 L425.9 308.1 L426.5 307.5 L427.1 307.0 L427.7 306.5 L428.4 306.0 L429.0 305.5 L429.7 305.0 L430.3 304.6 L431.0 304.1 L431.7 303.7 L432.4 303.2 L433.0 302.8 L433.7 302.3 L434.4 301.9 L435.1 301.4 L435.8 301.0 L436.5 300.6 L437.2 300.1 L437.8 299.7 L438.5 299.3 L439.2 298.8 L439.9 298.4 L440.6 297.9 L441.3 297.5 L442.0 297.1 L442.7 296.6 L443.4 296.2 L444.0 295.7 L444.7 295.3 L445.4 294.8 L446.1 294.4 L446.8 293.9 L447.4 293.5 L448.1 293.0 L448.8 292.5 L449.5 292.1 L450.1 291.6 L450.8 291.1 L451.4 290.6 L452.1 290.1 L452.7 289.7 L453.4 289.2 L454.0 288.7 L454.7 288.2 L455.3 287.6 L455.9 287.1 L456.5 286.6 L457.2 286.0 L457.8 285.5 L458.4 284.9 L459.0 284.4 L459.5 283.8 L460.1 283.2 L460.7 282.6 L461.3 282.0 L461.8 281.4 L462.3 280.8 L462.9 280.2 L463.4 279.6 L463.9 278.9 L464.4 278.3 L464.8 277.6 L465.3 276.9 L465.7 276.3 L466.1 275.5 L466.5 274.8 L466.9 274.1 L467.3 273.4 L467.6 272.7 L467.9 271.9 L468.2 271.2 L468.5 270.4 L468.7 269.6 L468.9 268.8 L469.1 268.0 L469.3 267.2 L469.4 266.4 L469.5 265.6 L469.6 264.8 L469.7 264.0 L469.7 263.2 L469.7 262.4 L469.6 261.5 L469.6 260.7 L469.5 259.9 L469.4 259.1 L469.3 258.3 L469.1 257.5 L468.9 256.7 L468.7 255.9 L468.5 255.1 L468.3 254.3 L468.0 253.6 L467.8 252.8 L467.5 252.0 L467.2 251.3 L466.9 250.5 L466.5 249.8 L466.2 249.0 L465.8 248.3 L465.5 247.6 L465.1 246.8 L464.7 246.1 L464.3 245.4 L463.9 244.7 L463.5 244.0 L463.0 243.3 L462.6 242.6 L462.2 241.9 L461.7 241.2 L461.3 240.6 L460.8 239.9 L460.3 239.2 L459.8 238.5 L459.3 237.8 L458.9 237.2 L458.4 236.5 L457.9 235.9 L457.4 235.2 L456.8 234.6 L456.3 233.9 L455.8 233.3 L455.3 232.7 L454.8 232.0 L454.2 231.4 L453.7 230.7 L453.2 230.1 L452.6 229.5 L452.1 228.9 L451.6 228.3 L451.0 227.6 L450.4 227.0 L449.9 226.4 L449.3 225.8 L448.8 225.2 L448.2 224.6 L447.7 224.0 L447.1 223.4 L446.5 222.8 L445.9 222.2 L445.4 221.5 L444.8 220.9 L444.2 220.3 L443.6 219.7 L443.1 219.2 L442.5 218.6 L441.9 218.0 L441.3 217.4 L440.8 216.8 L440.2 216.2 L439.6 215.7 L439.0 215.1 L438.4 214.5 L437.8 213.9 L437.1 213.3 L436.5 212.7 L435.9 212.1 L435.4 211.5 L434.8 211.0 L434.2 210.4 L433.6 209.8 L433.0 209.2 L432.4 208.7 L431.8 208.1 L431.2 207.5 L430.6 206.9 L430.0 206.3 L429.3 205.8 L428.7 205.2 L428.1 204.6 L427.5 204.0 L426.8 203.4 L426.3 202.8 L425.7 202.3 L425.1 201.7 L424.5 201.2 L423.9 200.6 L423.3 200.1 L422.7 199.5 L422.1 198.9 L421.5 198.4 L420.9 197.8 L420.3 197.2 L419.6 196.7 L419.0 196.1 L418.4 195.5 L417.8 194.9 L417.1 194.4 L416.5 193.8 L415.9 193.2 L415.3 192.6 L414.6 192.0 L414.0 191.4 L413.3 190.8 L412.7 190.2 L412.1 189.7 L411.5 189.1 L410.9 188.6 L410.3 188.0 L409.7 187.5 L409.1 186.9 L408.5 186.4 L407.9 185.8 L407.3 185.3 L406.7 184.7 L406.1 184.1 L405.5 183.6 L404.9 183.0 L404.3 182.4 L403.7 181.9 L403.1 181.3 L402.5 180.7 L401.8 180.2 L401.2 179.6 L400.6 179.0 L400.0 178.4 L399.4 177.8 L398.7 177.2 L398.1 176.7 L397.5 176.1 L396.8 175.5 L396.2 174.9 L395.6 174.3 L394.9 173.7 L394.3 173.1 L393.7 172.5 L393.0 171.9 L392.4 171.3 L391.8 170.7 L391.1 170.1 L390.5 169.4 L389.9 168.9 L389.3 168.3 L388.7 167.8 L388.1 167.2 L387.6 166.7 L387.0 166.1 L386.4 165.5 L385.8 165.0 L385.2 164.4 L384.6 163.8 L384.0 163.3 L383.5 162.7 L382.9 162.1 L382.3 161.6 L381.7 161.0 L381.1 160.4 L380.5 159.8 L379.9 159.2 L379.3 158.7 L378.7 158.1 L378.1 157.5 L377.5 156.9 L376.9 156.3 L376.3 155.7 L375.7 155.1 L375.1 154.5 L374.5 153.9 L373.9 153.3 L373.3 152.7 L372.7 152.1 L372.1 151.5 L371.5 150.9 L370.9 150.3 L370.3 149.7 L369.7 149.1 L369.1 148.5 L368.5 147.8 L367.9 147.2 L367.3 146.6 L366.7 146.0 L366.1 145.3 L365.5 144.7 L364.9 144.1 L364.2 143.5 L363.6 142.8 L363.0 142.2 L362.4 141.6 L361.8 140.9 L361.2 140.3 L360.6 139.6 L360.0 139.0 L359.4 138.4 L358.8 137.7 L358.1 137.1 L357.5 136.4 L356.9 135.8 L356.3 135.1 L355.7 134.4 L355.2 133.9 L354.6 133.3 L354.1 132.7 L353.5 132.1 L353.0 131.5 L352.4 130.9 L351.9 130.3 L351.3 129.7 L350.8 129.1 L350.2 128.5 L349.7 127.9 L349.2 127.3 L348.6 126.7 L348.1 126.1 L347.5 125.5 L347.0 124.9 L346.4 124.3 L345.9 123.6 L345.3 123.0 L344.8 122.4 L344.2 121.8 L343.7 121.2 L343.2 120.5 L342.6 119.9 L342.1 119.3 L341.5 118.7 L341.0 118.0 L340.4 117.4 L339.9 116.8 L339.3 116.1 L338.8 115.5 L338.2 114.9 L337.7 114.2 L337.2 113.6 L336.6 112.9 L336.1 112.3 L335.5 111.7 L335.0 111.0 L334.4 110.4 L333.9 109.7 L333.3 109.0 L332.8 108.4 L332.3 107.7 L331.7 107.1 L331.2 106.4 L330.6 105.8 L330.1 105.1 L329.5 104.4 L329.0 103.8 L328.5 103.1 L327.9 102.4 L327.4 101.7 L326.8 101.1 L326.3 100.4 L325.7 99.7 L325.2 99.0 L324.7 98.3 L324.1 97.7 L323.6 97.0 L323.0 96.3 L322.5 95.6 L322.0 94.9 L321.4 94.2 L320.9 93.5 L320.4 92.8 L319.8 92.1 L319.3 91.4 L318.7 90.7 L318.2 90.0 L317.7 89.3 L317.1 88.6 L316.6 87.9 L316.1 87.2 L315.5 86.5 L315.0 85.7 L314.5 85.0 L313.9 84.3 L313.4 83.6 L312.9 82.9 L312.3 82.1 L311.8 81.4 L311.3 80.7 L310.7 79.9 L310.2 79.2 L309.7 78.5 L309.1 77.7 L308.6 77.0 L308.1 76.3 L307.5 75.5 L307.1 74.9 L306.6 74.2 L306.2 73.5 L305.7 72.9 L305.2 72.2 L304.8 71.6 L304.3 70.9 L303.9 70.2 L303.4 69.6 L302.9 68.9 L302.5 68.2 L302.0 67.6 L301.6 66.9 L301.1 66.2 L300.6 65.6 L300.2 64.9 L299.7 64.2 L299.3 63.5 L298.8 62.8 L298.4 62.2 L297.9 61.5 L297.4 60.8 L297.0 60.1 L296.5 59.4 L296.1 58.7 L295.6 58.0 L295.2 57.3 L294.7 56.6 L294.3 55.9 L293.8 55.2 L293.4 54.5 L292.9 53.8 L292.5 53.1 L292.0 52.4 L291.6 51.7 L291.1 51.0 L290.7 50.3 L290.2 49.6 L289.8 48.9 L289.3 48.1 L288.9 47.4 L288.4 46.7 L288.0 46.0 L287.5 45.3 L287.1 44.5 L286.7 43.8 L286.2 43.1 L285.8 42.4 L285.3 41.6 L284.9 40.9 L284.4 40.2 L284.0 39.4 L283.6 38.7 L283.1 37.9 L282.7 37.2 L282.2 36.5 L281.8 35.7 L281.4 35.0 L280.9 34.2 L280.5 33.5 L280.0 32.7 L279.6 32.0 L279.2 31.2 L278.7 30.4 L278.3 29.7 L277.9 28.9 L277.4 28.2 L277.0 27.4 L276.6 26.6 L276.1 25.9 L275.7 25.1 L275.3 24.3 L274.8 23.5 L274.4 22.8 L274.0 22.0 L273.5 21.2 L273.1 20.4 L272.7 19.6 L272.3 18.9 L271.8 18.1 L271.4 17.3 L271.0 16.5 L270.6 15.7 L270.1 14.9 L269.7 14.1 L269.3 13.3 L268.9 12.5 L268.4 11.7" stroke="#0000ff" stroke-width="2.8" stroke-dasharray="9 3.75" stroke-dashoffset="4.20"/>
<path d="M736.0 339.1 L712.5 339.1 L690.4 339.1 L669.6 339.1 L650.0 339.1 L631.4 339.2 L613.9 339.2 L597.4 339.2 L581.6 339.2 L566.7 339.2 L552.5 339.2 L539.0 339.2 L526.1 339.2 L513.8 339.2 L502.1 339.2 L490.8 339.2 L480.1 339.2 L469.8 339.2 L459.9 339.2 L450.5 339.3 L441.4 339.3 L432.6 339.3 L424.2 339.3 L416.1 339.3 L408.3 339.3 L400.8 339.3 L393.6 339.3 L386.6 339.3 L379.9 339.3 L373.4 339.3 L367.1 339.3 L361.0 339.3 L355.1 339.3 L349.4 339.4 L343.9 339.4 L338.5 339.4 L333.3 339.4 L328.3 339.4 L323.4 339.4 L318.7 339.4 L314.0 339.4 L309.6 339.4 L305.2 339.4 L301.0 339.4 L296.9 339.4 L292.9 339.4 L289.0 339.4 L285.2 339.4 L281.5 339.5 L277.9 339.5 L274.4 339.5 L271.0 339.5 L267.7 339.5 L264.4 339.5 L261.3 339.5 L258.2 339.5 L255.2 339.5 L252.2 339.5 L249.3 339.5 L246.5 339.5 L243.8 339.5 L241.1 339.5 L238.5 339.6 L235.9 339.6 L233.4 339.6 L231.0 339.6 L228.6 339.6 L226.2 339.6 L223.9 339.6 L221.7 339.6 L219.5 339.6 L217.3 339.6 L215.2 339.6 L213.1 339.6 L211.1 339.6 L209.1 339.6 L207.1 339.7 L205.2 339.7 L203.4 339.7 L201.5 339.7 L199.7 339.7 L197.9 339.7 L196.2 339.7 L194.5 339.7 L192.8 339.7 L191.2 339.7 L189.6 339.7 L188.0 339.7 L186.4 339.7 L184.9 339.7 L183.4 339.7 L181.9 339.8 L180.5 339.8 L179.1 339.8 L177.7 339.8 L176.3 339.8 L174.9 339.8 L173.6 339.8 L172.3 339.8 L171.0 339.8 L169.8 339.8 L168.5 339.8 L167.3 339.8 L166.1 339.8 L164.9 339.8 L163.8 339.8 L162.6 339.9 L161.5 339.9 L160.4 339.9 L159.3 339.9 L158.2 339.9 L157.1 339.9 L156.1 339.9 L155.1 339.9 L154.1 339.9 L153.1 339.9 L152.1 339.9 L151.1 339.9 L150.2 339.9 L149.2 339.9 L148.3 339.9 L147.4 340.0 L146.5 340.0 L145.6 340.0 L144.7 340.0 L143.9 340.0 L143.0 340.0 L142.2 340.0 L141.4 340.0 L140.6 340.0 L139.8 340.0 L138.2 340.0 L136.7 340.0 L135.2 340.1 L133.7 340.1 L132.3 340.1 L130.9 340.1 L129.6 340.1 L128.3 340.1 L127.0 340.1 L125.8 340.1 L124.6 340.2 L123.4 340.2 L122.2 340.2 L121.1 340.2 L120.0 340.2 L119.0 340.2 L117.9 340.2 L116.9 340.3 L115.9 340.3 L114.9 340.3 L114.0 340.3 L113.0 340.3 L112.1 340.3 L111.2 340.3 L110.4 340.3 L109.5 340.4 L108.7 340.4 L107.9 340.4 L106.7 340.4 L105.6 340.4 L104.4 340.4 L103.4 340.5 L102.3 340.5 L101.3 340.5 L100.3 340.5 L99.4 340.5 L98.5 340.6 L97.6 340.6 L96.7 340.6 L95.8 340.6 L95.0 340.6 L94.0 340.7 L92.9 340.7 L92.0 340.7 L91.0 340.7 L90.1 340.8 L89.2 340.8 L88.4 340.8 L87.6 340.8 L86.6 340.9 L85.6 340.9 L84.7 340.9 L83.9 340.9 L83.1 341.0 L82.1 341.0 L81.2 341.0 L80.3 341.1 L79.5 341.1 L78.6 341.2 L77.8 341.2 L77.0 341.2 L76.1 341.3 L75.3 341.3 L74.4 341.4 L73.6 341.4 L72.7 341.5 L71.9 341.6 L71.0 341.6 L70.2 341.7 L69.4 341.8 L68.5 341.9 L67.7 341.9 L66.9 342.0 L66.1 342.2 L65.3 342.3 L64.5 342.4 L63.7 342.6 L62.9 342.8 L62.1 343.0 L61.4 343.3 L60.7 343.7 L60.1 344.3 L59.8 345.0 L59.6 345.8 L59.5 346.6 L59.5 347.4 L59.5 348.2 L59.5 349.0 L59.5 349.8 L59.5 350.3" stroke="#0000ff" stroke-width="2.8" stroke-dasharray="9 3.75" stroke-dashoffset="0.40"/>
<path d="M736.0 314.1 L735.0 314.1 L734.0 314.1 L733.0 314.1 L732.0 314.1 L731.1 314.0 L730.1 314.0 L729.1 314.0 L728.2 314.0 L727.2 313.9 L726.3 313.9 L725.3 313.9 L724.4 313.9 L723.4 313.9 L722.5 313.8 L721.6 313.8 L720.6 313.8 L719.7 313.8 L718.8 313.8 L717.9 313.7 L717.0 313.7 L716.1 313.7 L715.2 313.7 L714.3 313.7 L713.4 313.6 L712.5 313.6 L711.6 313.6 L710.8 313.6 L709.9 313.6 L709.0 313.5 L708.2 313.5 L707.3 313.5 L706.5 313.5 L705.6 313.5 L704.8 313.4 L703.9 313.4 L703.1 313.4 L702.2 313.4 L701.4 313.4 L700.6 313.3 L699.8 313.3 L698.9 313.3 L698.1 313.3 L697.3 313.3 L696.5 313.2 L695.7 313.2 L694.5 313.2 L693.3 313.1 L692.2 313.1 L691.0 313.1 L689.8 313.1 L688.7 313.0 L687.5 313.0 L686.4 313.0 L685.3 312.9 L684.1 312.9 L683.0 312.9 L681.9 312.8 L680.8 312.8 L679.7 312.8 L678.6 312.7 L677.6 312.7 L676.5 312.7 L675.4 312.6 L674.4 312.6 L673.3 312.6 L672.3 312.5 L671.2 312.5 L670.2 312.5 L669.2 312.5 L668.2 312.4 L667.2 312.4 L666.2 312.4 L665.2 312.3 L664.2 312.3 L663.2 312.3 L662.3 312.2 L661.3 312.2 L660.3 312.2 L659.4 312.1 L658.4 312.1 L657.5 312.1 L656.6 312.0 L655.6 312.0 L654.7 312.0 L653.8 311.9 L652.9 311.9 L652.0 311.9 L651.1 311.8 L650.2 311.8 L649.3 311.8 L648.4 311.7 L647.5 311.7 L646.7 311.7 L645.8 311.7 L644.9 311.6 L644.1 311.6 L643.2 311.6 L642.4 311.5 L641.6 311.5 L640.7 311.5 L639.9 311.4 L639.1 311.4 L638.3 311.4 L637.5 311.3 L636.7 311.3 L635.9 311.3 L634.8 311.2 L633.7 311.2 L632.7 311.1 L631.7 311.1 L630.6 311.0 L629.6 311.0 L628.6 311.0 L627.6 310.9 L626.6 310.9 L625.6 310.8 L624.7 310.8 L623.7 310.7 L622.7 310.7 L621.8 310.6 L620.8 310.6 L619.9 310.6 L619.0 310.5 L618.1 310.5 L617.1 310.4 L616.2 310.4 L615.3 310.3 L614.4 310.3 L613.6 310.2 L612.7 310.2 L611.8 310.2 L610.9 310.1 L610.1 310.1 L609.2 310.0 L608.4 310.0 L607.6 309.9 L606.7 309.9 L605.9 309.8 L605.1 309.8 L604.3 309.7 L603.5 309.7 L602.7 309.7 L601.7 309.6 L600.7 309.5 L599.7 309.5 L598.8 309.4 L597.8 309.4 L596.9 309.3 L595.9 309.3 L595.0 309.2 L594.1 309.1 L593.2 309.1 L592.3 309.0 L591.4 309.0 L590.5 308.9 L589.6 308.8 L588.8 308.8 L587.9 308.7 L587.1 308.7 L586.2 308.6 L585.4 308.6 L584.6 308.5 L583.8 308.4 L582.9 308.4 L582.1 308.3 L581.2 308.3 L580.2 308.2 L579.3 308.1 L578.4 308.0 L577.5 308.0 L576.6 307.9 L575.7 307.8 L574.8 307.8 L573.9 307.7 L573.1 307.6 L572.2 307.5 L571.4 307.5 L570.5 307.4 L569.7 307.3 L568.9 307.3 L568.1 307.2 L567.3 307.1 L566.4 307.0 L565.5 306.9 L564.6 306.9 L563.7 306.8 L562.8 306.7 L561.9 306.6 L561.1 306.5 L560.2 306.4 L559.4 306.3 L558.6 306.3 L557.8 306.2 L557.0 306.1 L556.1 306.0 L555.2 305.9 L554.3 305.8 L553.4 305.7 L552.6 305.6 L551.7 305.5 L550.9 305.4 L550.1 305.3 L549.3 305.2 L548.5 305.1 L547.6 305.0 L546.7 304.8 L545.8 304.7 L545.0 304.6 L544.2 304.5 L543.4 304.4 L542.6 304.3 L541.8 304.2 L540.9 304.0 L540.0 303.9 L539.2 303.8 L538.4 303.6 L537.6 303.5 L536.8 303.4 L535.9 303.2 L535.1 303.1 L534.3 302.9 L533.4 302.8 L532.7 302.6 L531.8 302.5 L531.0 302.3 L530.2 302.2 L529.4 302.0 L528.6 301.8 L527.7 301.7 L526.9 301.5 L526.1 301.3 L525.3 301.1 L524.5 300.9 L523.7 300.7 L522.9 300.5 L522.1 300.3 L521.3 300.1 L520.5 299.9 L519.7 299.7 L518.9 299.5 L518.1 299.2 L517.3 299.0 L516.6 298.7 L515.8 298.5 L515.0 298.2 L514.3 297.9 L513.5 297.6 L512.8 297.3 L512.0 297.0 L511.2 296.7 L510.5 296.4 L509.7 296.1 L509.0 295.7 L508.3 295.3 L507.5 295.0 L506.8 294.6 L506.1 294.2 L505.4 293.7 L504.8 293.3 L504.1 292.8 L503.4 292.3 L502.8 291.8 L502.2 291.3 L501.5 290.8 L500.9 290.3 L500.4 289.7 L499.8 289.1 L499.3 288.5 L498.7 287.9 L498.2 287.2 L497.7 286.6 L497.3 285.9 L496.8 285.3 L496.4 284.6 L496.0 283.9 L495.6 283.2 L495.2 282.4 L494.8 281.7 L494.5 281.0 L494.1 280.3 L493.8 279.5 L493.4 278.8 L493.1 278.0 L492.8 277.3 L492.4 276.6 L492.1 275.8 L491.8 275.1 L491.5 274.4 L491.1 273.6 L490.8 272.9 L490.5 272.1 L490.1 271.4 L489.8 270.7 L489.4 269.9 L489.1 269.2 L488.7 268.5 L488.4 267.7 L488.0 267.0 L487.6 266.3 L487.2 265.6 L486.9 264.8 L486.5 264.1 L486.1 263.4 L485.7 262.7 L485.3 262.0 L484.8 261.3 L484.4 260.6 L484.0 259.9 L483.5 259.2 L483.1 258.5 L482.7 257.8 L482.2 257.2 L481.7 256.5 L481.3 255.8 L480.8 255.1 L480.3 254.5 L479.9 253.8 L479.4 253.1 L478.9 252.5 L478.4 251.8 L477.9 251.2 L477.4 250.5 L476.9 249.9 L476.4 249.2 L475.9 248.6 L475.3 248.0 L474.8 247.3 L474.3 246.7 L473.8 246.1 L473.2 245.4 L472.7 244.8 L472.2 244.2 L471.6 243.6 L471.1 243.0 L470.5 242.3 L470.0 241.7 L469.4 241.1 L468.9 240.5 L468.3 239.9 L467.8 239.3 L467.2 238.7 L466.7 238.1 L466.1 237.5 L465.5 236.9 L464.9 236.3 L464.4 235.8 L463.8 235.2 L463.2 234.6 L462.7 234.0 L462.1 233.4 L461.5 232.8 L460.9 232.2 L460.3 231.7 L459.7 231.1 L459.2 230.5 L458.6 229.9 L458.0 229.4 L457.4 228.8 L456.8 228.2 L456.2 227.6 L455.6 227.1 L455.0 226.5 L454.4 225.9 L453.8 225.4 L453.2 224.8 L452.6 224.3 L452.0 223.7 L451.4 223.1 L450.8 222.6 L450.2 222.0 L449.6 221.4 L448.9 220.8 L448.3 220.3 L447.8 219.8 L447.2 219.2 L446.6 218.7 L445.9 218.1 L445.3 217.5 L444.7 217.0 L444.1 216.4 L443.5 215.9 L442.9 215.3 L442.2 214.7 L441.6 214.2 L441.0 213.6 L440.4 213.1 L439.8 212.5 L439.2 212.0 L438.5 211.4 L437.9 210.9 L437.3 210.3 L436.7 209.8 L436.1 209.2 L435.5 208.7 L434.8 208.1 L434.2 207.6 L433.6 207.0 L432.9 206.5 L432.3 205.9 L431.7 205.3 L431.0 204.8 L430.4 204.2 L429.8 203.7 L429.2 203.2 L428.6 202.6 L428.0 202.1 L427.4 201.6 L426.8 201.0 L426.2 200.5 L425.5 199.9 L424.9 199.4 L424.3 198.8 L423.7 198.3 L423.0 197.7 L422.4 197.2 L421.8 196.6 L421.2 196.0 L420.5 195.5 L419.9 194.9 L419.2 194.4 L418.6 193.8 L417.9 193.2 L417.3 192.6 L416.7 192.1 L416.1 191.5 L415.5 191.0 L414.8 190.5 L414.2 189.9 L413.6 189.4 L413.0 188.9 L412.4 188.3 L411.8 187.8 L411.2 187.2 L410.6 186.7 L410.0 186.1 L409.3 185.6 L408.7 185.0 L408.1 184.5 L407.5 183.9 L406.9 183.4 L406.2 182.8 L405.6 182.2 L405.0 181.7 L404.4 181.1 L403.7 180.5 L403.1 180.0 L402.5 179.4 L401.8 178.8 L401.2 178.2 L400.6 177.7 L399.9 177.1 L399.3 176.5 L398.6 175.9 L398.0 175.3 L397.4 174.7 L396.8 174.2 L396.2 173.7 L395.6 173.1 L395.0 172.6 L394.4 172.0 L393.8 171.5 L393.2 170.9 L392.6 170.4 L392.0 169.8 L391.4 169.3 L390.8 168.7 L390.2 168.1 L389.6 167.6 L389.0 167.0 L388.4 166.5 L387.8 165.9 L387.2 165.3 L386.6 164.8 L386.0 164.2 L385.4 163.6 L384.8 163.0 L384.2 162.5 L383.6 161.9 L383.0 161.3 L382.4 160.7 L381.7 160.1 L381.1 159.5 L380.5 159.0 L379.9 158.4 L379.3 157.8 L378.7 157.2 L378.1 156.6 L377.5 156.0 L376.9 155.4 L376.2 154.8 L375.6 154.2 L375.0 153.6 L374.4 153.0 L373.8 152.4 L373.2 151.8 L372.5 151.2 L371.9 150.5 L371.3 149.9 L370.7 149.3 L370.1 148.7 L369.4 148.1 L368.8 147.5 L368.2 146.8 L367.6 146.3 L367.1 145.7 L366.5 145.1 L366.0 144.5 L365.4 144.0 L364.8 143.4 L364.3 142.8 L363.7 142.2 L363.1 141.7 L362.6 141.1 L362.0 140.5 L361.4 139.9 L360.9 139.3 L360.3 138.7 L359.7 138.1 L359.2 137.5 L358.6 136.9 L358.0 136.3 L357.5 135.7 L356.9 135.1 L356.3 134.5 L355.8 133.9 L355.2 133.3 L354.6 132.7 L354.1 132.1 L353.5 131.5 L352.9 130.9 L352.4 130.3 L351.8 129.7 L351.2 129.0 L350.7 128.4 L350.1 127.8 L349.5 127.2 L348.9 126.6 L348.4 125.9 L347.8 125.3 L347.2 124.7 L346.7 124.0 L346.1 123.4 L345.5 122.8 L345.0 122.1 L344.4 121.5 L343.8 120.9 L343.3 120.2 L342.7 119.6 L342.1 118.9 L341.6 118.3 L341.0 117.6 L340.4 117.0 L339.9 116.3 L339.3 115.7 L338.7 115.0 L338.2 114.4 L337.6 113.7 L337.0 113.0 L336.5 112.4 L335.9 111.7 L335.3 111.0 L334.8 110.4 L334.2 109.7 L333.7 109.0 L333.1 108.3 L332.5 107.7 L332.0 107.0 L331.4 106.3 L330.8 105.6 L330.3 104.9 L329.7 104.3 L329.2 103.6 L328.7 103.0 L328.2 102.4 L327.7 101.8 L327.2 101.1 L326.7 100.5 L326.2 99.9 L325.7 99.3 L325.2 98.6 L324.7 98.0 L324.2 97.4 L323.6 96.7 L323.1 96.1 L322.6 95.4 L322.1 94.8 L321.6 94.2 L321.1 93.5 L320.6 92.9 L320.1 92.2 L319.6 91.6 L319.1 90.9 L318.6 90.3 L318.1 89.6 L317.6 89.0 L317.1 88.3 L316.6 87.6 L316.1 87.0 L315.6 86.3 L315.1 85.6 L314.6 85.0 L314.1 84.3 L313.6 83.6 L313.1 83.0 L312.6 82.3 L312.1 81.6 L311.7 80.9 L311.2 80.3 L310.7 79.6 L310.2 78.9 L309.7 78.2 L309.2 77.5 L308.7 76.9 L308.2 76.2 L307.7 75.5 L307.2 74.8 L306.7 74.1 L306.2 73.4 L305.7 72.7 L305.2 72.0 L304.8 71.3 L304.3 70.6 L303.8 69.9 L303.3 69.2 L302.8 68.5 L302.3 67.8 L301.8 67.1 L301.3 66.3 L300.8 65.6 L300.4 64.9 L299.9 64.2 L299.4 63.5 L298.9 62.8 L298.4 62.0 L297.9 61.3 L297.5 60.6 L297.0 59.8 L296.5 59.1 L296.0 58.4 L295.5 57.6 L295.0 56.9 L294.6 56.2 L294.1 55.4 L293.6 54.7 L293.1 53.9 L292.6 53.2 L292.2 52.4 L291.7 51.7 L291.2 50.9 L290.7 50.2 L290.3 49.4 L289.8 48.7 L289.3 47.9 L288.8 47.2 L288.4 46.4 L287.9 45.6 L287.5 45.0 L287.0 44.3 L286.6 43.6 L286.2 42.9 L285.8 42.2 L285.4 41.5 L285.0 40.8 L284.5 40.1 L284.1 39.4 L283.7 38.7 L283.3 38.0 L282.9 37.4 L282.5 36.7 L282.0 35.9 L281.6 35.2 L281.2 34.5 L280.8 33.8 L280.4 33.1 L280.0 32.4 L279.6 31.7 L279.1 31.0 L278.7 30.3 L278.3 29.6 L277.9 28.8 L277.5 28.1 L277.1 27.4 L276.7 26.7 L276.3 26.0 L275.9 25.2 L275.5 24.5 L275.1 23.8 L274.6 23.0 L274.2 22.3 L273.8 21.6 L273.4 20.8 L273.0 20.1 L272.6 19.4 L272.2 18.6 L271.8 17.9 L271.4 17.1 L271.0 16.4 L270.6 15.6 L270.2 14.9 L269.8 14.2 L269.4 13.4 L269.0 12.6 L268.6 11.9 L268.5 11.7" stroke="#00ff00" stroke-width="2.8" stroke-dasharray="9 3.75" stroke-dashoffset="3.20"/>
<path d="M736.0 337.0 L695.6 337.0 L659.6 337.1 L627.2 337.1 L597.9 337.1 L571.4 337.1 L547.1 337.1 L524.9 337.1 L504.5 337.1 L485.7 337.1 L468.3 337.1 L452.2 337.1 L437.2 337.1 L423.2 337.2 L410.1 337.2 L397.9 337.2 L386.4 337.2 L375.5 337.2 L365.4 337.2 L355.7 337.2 L346.6 337.2 L338.0 337.2 L329.9 337.2 L322.1 337.2 L314.8 337.2 L307.8 337.3 L301.1 337.3 L294.7 337.3 L288.6 337.3 L282.8 337.3 L277.3 337.3 L272.0 337.3 L266.8 337.3 L262.0 337.3 L257.3 337.3 L252.7 337.3 L248.4 337.4 L244.2 337.4 L240.2 337.4 L236.3 337.4 L232.6 337.4 L229.0 337.4 L225.5 337.4 L222.1 337.4 L218.9 337.4 L215.7 337.4 L212.7 337.4 L209.7 337.4 L206.9 337.5 L204.1 337.5 L201.5 337.5 L198.9 337.5 L196.3 337.5 L193.9 337.5 L191.5 337.5 L189.2 337.5 L187.0 337.5 L184.8 337.5 L182.7 337.5 L180.6 337.5 L178.6 337.6 L176.7 337.6 L174.7 337.6 L172.9 337.6 L171.1 337.6 L169.3 337.6 L167.6 337.6 L165.9 337.6 L164.3 337.6 L162.7 337.6 L161.2 337.6 L159.6 337.6 L158.2 337.7 L156.7 337.7 L155.3 337.7 L153.9 337.7 L152.5 337.7 L151.2 337.7 L149.9 337.7 L148.7 337.7 L147.4 337.7 L146.2 337.7 L145.0 337.7 L143.9 337.8 L142.7 337.8 L141.6 337.8 L140.5 337.8 L139.5 337.8 L138.4 337.8 L137.4 337.8 L136.4 337.8 L135.4 337.8 L134.4 337.8 L133.5 337.8 L132.5 337.8 L131.6 337.9 L130.7 337.9 L129.8 337.9 L129.0 337.9 L128.1 337.9 L127.3 337.9 L126.5 337.9 L125.7 337.9 L124.1 337.9 L122.6 337.9 L121.2 338.0 L119.7 338.0 L118.4 338.0 L117.1 338.0 L115.8 338.0 L114.6 338.0 L113.4 338.1 L112.2 338.1 L111.1 338.1 L110.0 338.1 L108.9 338.1 L107.9 338.1 L106.9 338.2 L106.0 338.2 L105.0 338.2 L104.1 338.2 L103.2 338.2 L102.4 338.2 L101.5 338.2 L100.7 338.3 L99.5 338.3 L98.4 338.3 L97.3 338.3 L96.3 338.4 L95.2 338.4 L94.3 338.4 L93.3 338.4 L92.4 338.5 L91.6 338.5 L90.7 338.5 L89.9 338.5 L88.9 338.6 L87.9 338.6 L86.9 338.6 L86.0 338.7 L85.2 338.7 L84.3 338.7 L83.4 338.8 L82.4 338.8 L81.5 338.8 L80.7 338.9 L79.9 338.9 L79.0 339.0 L78.1 339.0 L77.3 339.0 L76.4 339.1 L75.5 339.1 L74.7 339.2 L73.8 339.3 L72.9 339.3 L72.1 339.4 L71.3 339.5 L70.5 339.5 L69.6 339.6 L68.8 339.7 L68.0 339.8 L67.2 339.9 L66.4 340.1 L65.6 340.2 L64.8 340.4 L64.0 340.5 L63.2 340.8 L62.4 341.0 L61.7 341.4 L61.0 341.8 L60.4 342.3 L60.0 343.0 L59.7 343.8 L59.6 344.6 L59.5 345.4 L59.5 346.2 L59.5 347.0 L59.5 347.8 L59.5 348.6 L59.5 349.4 L59.5 350.2 L59.5 350.3" stroke="#00ff00" stroke-width="2.8" stroke-dasharray="9 3.76" stroke-dashoffset="12.16"/>
<path d="M736.0 300.4 L735.0 300.4 L734.1 300.3 L733.2 300.3 L732.2 300.2 L731.3 300.2 L730.3 300.2 L729.4 300.1 L728.5 300.1 L727.6 300.1 L726.7 300.0 L725.8 300.0 L724.9 300.0 L724.0 299.9 L723.1 299.9 L722.2 299.8 L721.3 299.8 L720.4 299.8 L719.6 299.7 L718.7 299.7 L717.8 299.7 L717.0 299.6 L716.1 299.6 L715.3 299.6 L714.4 299.5 L713.6 299.5 L712.8 299.4 L711.9 299.4 L711.1 299.4 L710.3 299.3 L709.5 299.3 L708.6 299.3 L707.8 299.2 L707.0 299.2 L706.2 299.2 L705.2 299.1 L704.1 299.1 L703.0 299.0 L702.0 299.0 L701.0 298.9 L699.9 298.9 L698.9 298.8 L697.9 298.8 L696.9 298.7 L695.9 298.7 L694.9 298.6 L693.9 298.6 L692.9 298.5 L691.9 298.5 L691.0 298.4 L690.0 298.4 L689.1 298.3 L688.1 298.3 L687.2 298.2 L686.2 298.2 L685.3 298.1 L684.4 298.1 L683.4 298.0 L682.5 298.0 L681.6 297.9 L680.7 297.9 L679.8 297.8 L678.9 297.8 L678.0 297.7 L677.2 297.7 L676.3 297.6 L675.4 297.6 L674.6 297.5 L673.7 297.5 L672.8 297.4 L672.0 297.4 L671.2 297.3 L670.3 297.3 L669.5 297.2 L668.7 297.2 L667.8 297.1 L667.0 297.1 L666.2 297.0 L665.4 297.0 L664.6 296.9 L663.6 296.8 L662.6 296.8 L661.6 296.7 L660.7 296.6 L659.7 296.6 L658.7 296.5 L657.8 296.5 L656.8 296.4 L655.9 296.3 L655.0 296.3 L654.1 296.2 L653.1 296.1 L652.2 296.1 L651.3 296.0 L650.4 295.9 L649.5 295.9 L648.7 295.8 L647.8 295.7 L646.9 295.7 L646.0 295.6 L645.2 295.5 L644.3 295.5 L643.5 295.4 L642.7 295.3 L641.8 295.3 L641.0 295.2 L640.2 295.1 L639.4 295.1 L638.5 295.0 L637.7 294.9 L636.9 294.9 L636.0 294.8 L635.1 294.7 L634.1 294.6 L633.2 294.6 L632.3 294.5 L631.4 294.4 L630.5 294.3 L629.6 294.2 L628.7 294.2 L627.8 294.1 L626.9 294.0 L626.1 293.9 L625.2 293.8 L624.3 293.8 L623.5 293.7 L622.7 293.6 L621.8 293.5 L621.0 293.4 L620.2 293.3 L619.4 293.3 L618.6 293.2 L617.8 293.1 L616.8 293.0 L615.9 292.9 L615.0 292.8 L614.1 292.7 L613.2 292.6 L612.3 292.5 L611.5 292.4 L610.6 292.3 L609.7 292.2 L608.9 292.1 L608.0 292.0 L607.2 291.9 L606.4 291.8 L605.6 291.7 L604.7 291.6 L603.9 291.5 L603.1 291.4 L602.2 291.3 L601.3 291.2 L600.5 291.1 L599.6 291.0 L598.7 290.9 L597.8 290.8 L597.0 290.7 L596.1 290.5 L595.3 290.4 L594.5 290.3 L593.7 290.2 L592.9 290.1 L592.0 290.0 L591.3 289.8 L590.4 289.7 L589.5 289.6 L588.6 289.5 L587.8 289.3 L586.9 289.2 L586.1 289.1 L585.2 288.9 L584.4 288.8 L583.6 288.7 L582.8 288.5 L582.0 288.4 L581.2 288.3 L580.3 288.1 L579.5 288.0 L578.6 287.8 L577.8 287.7 L577.0 287.5 L576.2 287.4 L575.3 287.2 L574.5 287.1 L573.7 286.9 L572.9 286.7 L572.0 286.6 L571.2 286.4 L570.4 286.2 L569.5 286.1 L568.7 285.9 L567.9 285.7 L567.1 285.6 L566.3 285.4 L565.5 285.2 L564.7 285.0 L563.8 284.8 L563.0 284.6 L562.2 284.5 L561.4 284.3 L560.6 284.1 L559.8 283.9 L559.0 283.7 L558.1 283.4 L557.3 283.2 L556.5 283.0 L555.7 282.8 L555.0 282.6 L554.1 282.4 L553.3 282.2 L552.5 281.9 L551.7 281.7 L550.9 281.5 L550.1 281.2 L549.4 281.0 L548.6 280.8 L547.8 280.5 L547.0 280.3 L546.2 280.0 L545.4 279.7 L544.6 279.5 L543.8 279.2 L543.1 279.0 L542.3 278.7 L541.5 278.4 L540.7 278.1 L540.0 277.8 L539.2 277.6 L538.4 277.3 L537.6 277.0 L536.9 276.7 L536.1 276.4 L535.4 276.1 L534.6 275.7 L533.8 275.4 L533.1 275.1 L532.3 274.8 L531.6 274.4 L530.9 274.1 L530.1 273.8 L529.3 273.4 L528.6 273.1 L527.9 272.7 L527.1 272.4 L526.4 272.0 L525.7 271.6 L524.9 271.3 L524.2 270.9 L523.5 270.5 L522.7 270.1 L522.0 269.7 L521.3 269.4 L520.6 269.0 L519.9 268.6 L519.2 268.2 L518.4 267.8 L517.7 267.3 L517.0 266.9 L516.3 266.5 L515.6 266.1 L514.9 265.6 L514.2 265.2 L513.5 264.8 L512.8 264.4 L512.1 263.9 L511.5 263.5 L510.8 263.1 L510.1 262.6 L509.4 262.2 L508.8 261.7 L508.1 261.3 L507.4 260.8 L506.8 260.4 L506.1 259.9 L505.4 259.5 L504.8 259.0 L504.1 258.6 L503.4 258.1 L502.8 257.6 L502.1 257.2 L501.5 256.7 L500.8 256.2 L500.2 255.7 L499.5 255.3 L498.8 254.8 L498.2 254.3 L497.5 253.8 L496.9 253.3 L496.2 252.9 L495.5 252.4 L494.9 251.9 L494.2 251.4 L493.6 250.9 L492.9 250.4 L492.2 249.9 L491.6 249.4 L490.9 248.9 L490.3 248.4 L489.6 247.9 L489.0 247.4 L488.4 246.9 L487.7 246.4 L487.1 245.9 L486.4 245.4 L485.8 244.9 L485.1 244.4 L484.4 243.9 L483.8 243.4 L483.1 242.9 L482.5 242.4 L481.8 241.9 L481.2 241.4 L480.6 240.9 L479.9 240.4 L479.3 239.9 L478.6 239.4 L478.0 238.9 L477.3 238.4 L476.7 237.9 L476.0 237.3 L475.4 236.8 L474.7 236.3 L474.0 235.8 L473.4 235.3 L472.8 234.8 L472.1 234.3 L471.5 233.8 L470.9 233.3 L470.2 232.8 L469.6 232.3 L468.9 231.8 L468.3 231.3 L467.6 230.8 L467.0 230.2 L466.3 229.7 L465.6 229.2 L465.0 228.7 L464.4 228.2 L463.7 227.7 L463.1 227.2 L462.5 226.7 L461.8 226.2 L461.2 225.7 L460.5 225.2 L459.9 224.7 L459.2 224.1 L458.6 223.6 L457.9 223.1 L457.3 222.6 L456.6 222.1 L456.0 221.6 L455.3 221.0 L454.6 220.5 L454.0 220.0 L453.4 219.5 L452.7 219.0 L452.1 218.5 L451.5 218.0 L450.8 217.5 L450.2 217.0 L449.5 216.5 L448.9 215.9 L448.2 215.4 L447.6 214.9 L446.9 214.4 L446.3 213.9 L445.6 213.4 L445.0 212.8 L444.3 212.3 L443.6 211.8 L443.0 211.2 L442.4 210.7 L441.7 210.2 L441.1 209.7 L440.5 209.2 L439.8 208.7 L439.2 208.2 L438.6 207.7 L437.9 207.2 L437.3 206.7 L436.7 206.2 L436.0 205.6 L435.4 205.1 L434.7 204.6 L434.1 204.1 L433.4 203.5 L432.8 203.0 L432.1 202.5 L431.5 202.0 L430.8 201.4 L430.2 200.9 L429.5 200.4 L428.8 199.8 L428.2 199.3 L427.6 198.8 L426.9 198.3 L426.3 197.7 L425.7 197.2 L425.1 196.7 L424.4 196.2 L423.8 195.7 L423.2 195.2 L422.6 194.7 L421.9 194.1 L421.3 193.6 L420.7 193.1 L420.0 192.6 L419.4 192.0 L418.8 191.5 L418.1 191.0 L417.5 190.4 L416.8 189.9 L416.2 189.3 L415.5 188.8 L414.9 188.3 L414.3 187.7 L413.6 187.2 L413.0 186.6 L412.3 186.1 L411.7 185.5 L411.0 185.0 L410.4 184.4 L409.7 183.9 L409.1 183.3 L408.5 182.8 L407.8 182.3 L407.2 181.7 L406.6 181.2 L406.0 180.7 L405.4 180.2 L404.8 179.6 L404.2 179.1 L403.6 178.6 L402.9 178.0 L402.3 177.5 L401.7 177.0 L401.1 176.4 L400.5 175.9 L399.9 175.3 L399.2 174.8 L398.6 174.2 L398.0 173.7 L397.4 173.1 L396.8 172.6 L396.1 172.0 L395.5 171.5 L394.9 170.9 L394.3 170.4 L393.6 169.8 L393.0 169.2 L392.4 168.7 L391.7 168.1 L391.1 167.5 L390.5 167.0 L389.9 166.4 L389.2 165.8 L388.6 165.3 L388.0 164.7 L387.3 164.1 L386.7 163.5 L386.1 162.9 L385.4 162.4 L384.8 161.8 L384.2 161.2 L383.5 160.6 L383.0 160.1 L382.4 159.5 L381.8 159.0 L381.2 158.4 L380.6 157.9 L380.0 157.3 L379.4 156.7 L378.9 156.2 L378.3 155.6 L377.7 155.1 L377.1 154.5 L376.5 153.9 L375.9 153.4 L375.3 152.8 L374.7 152.2 L374.1 151.7 L373.6 151.1 L373.0 150.5 L372.4 150.0 L371.8 149.4 L371.2 148.8 L370.6 148.2 L370.0 147.6 L369.4 147.1 L368.8 146.5 L368.2 145.9 L367.6 145.3 L367.1 144.7 L366.5 144.1 L365.9 143.5 L365.3 142.9 L364.7 142.3 L364.1 141.7 L363.5 141.1 L362.9 140.5 L362.3 139.9 L361.7 139.3 L361.1 138.7 L360.5 138.1 L360.0 137.5 L359.4 136.9 L358.8 136.3 L358.2 135.7 L357.6 135.1 L357.0 134.4 L356.4 133.8 L355.8 133.2 L355.2 132.6 L354.6 131.9 L354.0 131.3 L353.4 130.7 L352.8 130.1 L352.3 129.4 L351.7 128.8 L351.1 128.1 L350.5 127.5 L349.9 126.9 L349.3 126.3 L348.8 125.7 L348.3 125.1 L347.7 124.5 L347.2 123.9 L346.6 123.3 L346.1 122.7 L345.6 122.1 L345.0 121.5 L344.5 120.9 L343.9 120.3 L343.4 119.7 L342.8 119.1 L342.3 118.5 L341.8 117.9 L341.2 117.3 L340.7 116.6 L340.1 116.0 L339.6 115.4 L339.1 114.8 L338.5 114.2 L338.0 113.6 L337.5 112.9 L336.9 112.3 L336.4 111.7 L335.8 111.0 L335.3 110.4 L334.8 109.8 L334.2 109.2 L333.7 108.5 L333.2 107.9 L332.6 107.2 L332.1 106.6 L331.5 106.0 L331.0 105.3 L330.5 104.7 L329.9 104.0 L329.4 103.4 L328.9 102.7 L328.3 102.1 L327.8 101.4 L327.3 100.8 L326.7 100.1 L326.2 99.4 L325.7 98.8 L325.1 98.1 L324.6 97.5 L324.1 96.8 L323.5 96.1 L323.0 95.5 L322.5 94.8 L322.0 94.1 L321.4 93.4 L320.9 92.8 L320.4 92.1 L319.8 91.4 L319.3 90.7 L318.8 90.0 L318.3 89.3 L317.7 88.7 L317.2 88.0 L316.7 87.3 L316.1 86.6 L315.6 85.9 L315.1 85.2 L314.6 84.5 L314.0 83.8 L313.5 83.1 L313.0 82.4 L312.5 81.7 L312.0 81.0 L311.5 80.3 L311.0 79.7 L310.5 79.0 L310.1 78.4 L309.6 77.7 L309.1 77.1 L308.6 76.4 L308.2 75.8 L307.7 75.1 L307.2 74.5 L306.8 73.8 L306.3 73.1 L305.8 72.5 L305.3 71.8 L304.9 71.1 L304.4 70.5 L303.9 69.8 L303.5 69.1 L303.0 68.5 L302.5 67.8 L302.1 67.1 L301.6 66.4 L301.1 65.7 L300.7 65.1 L300.2 64.4 L299.7 63.7 L299.3 63.0 L298.8 62.3 L298.4 61.6 L297.9 60.9 L297.4 60.2 L297.0 59.6 L296.5 58.9 L296.1 58.2 L295.6 57.5 L295.1 56.8 L294.7 56.1 L294.2 55.3 L293.8 54.6 L293.3 53.9 L292.8 53.2 L292.4 52.5 L291.9 51.8 L291.5 51.1 L291.0 50.4 L290.6 49.7 L290.1 48.9 L289.7 48.2 L289.2 47.5 L288.7 46.8 L288.3 46.0 L287.8 45.3 L287.4 44.6 L286.9 43.8 L286.5 43.1 L286.0 42.4 L285.6 41.6 L285.1 40.9 L284.7 40.2 L284.2 39.4 L283.8 38.7 L283.3 37.9 L282.9 37.2 L282.5 36.4 L282.0 35.7 L281.6 34.9 L281.1 34.2 L280.7 33.4 L280.2 32.6 L279.8 31.9 L279.3 31.1 L278.9 30.4 L278.5 29.6 L278.0 28.8 L277.6 28.1 L277.1 27.3 L276.8 26.6 L276.4 25.9 L276.0 25.2 L275.6 24.5 L275.2 23.8 L274.8 23.1 L274.4 22.4 L274.0 21.7 L273.6 21.0 L273.2 20.3 L272.8 19.5 L272.4 18.8 L272.0 18.1 L271.7 17.4 L271.3 16.7 L270.9 16.0 L270.5 15.2 L270.1 14.5 L269.7 13.8 L269.3 13.1 L268.9 12.3 L268.6 11.7" stroke="#ff8000" stroke-width="2.8" stroke-dasharray="4 3.96" stroke-dashoffset="3.00"/>
<path d="M736.0 335.2 L682.8 335.2 L637.1 335.2 L597.4 335.2 L562.6 335.2 L531.8 335.2 L504.3 335.2 L479.8 335.3 L457.6 335.3 L437.6 335.3 L419.3 335.3 L402.6 335.3 L387.3 335.3 L373.2 335.3 L360.2 335.3 L348.1 335.3 L336.9 335.3 L326.5 335.4 L316.8 335.4 L307.7 335.4 L299.1 335.4 L291.1 335.4 L283.5 335.4 L276.4 335.4 L269.7 335.4 L263.3 335.4 L257.2 335.4 L251.5 335.5 L246.1 335.5 L240.9 335.5 L236.0 335.5 L231.3 335.5 L226.8 335.5 L222.5 335.5 L218.4 335.5 L214.5 335.5 L210.8 335.5 L207.2 335.6 L203.7 335.6 L200.4 335.6 L197.2 335.6 L194.1 335.6 L191.2 335.6 L188.3 335.6 L185.6 335.6 L182.9 335.6 L180.4 335.6 L177.9 335.7 L175.5 335.7 L173.2 335.7 L171.0 335.7 L168.9 335.7 L166.8 335.7 L164.7 335.7 L162.8 335.7 L160.9 335.7 L159.0 335.7 L157.2 335.8 L155.5 335.8 L153.8 335.8 L152.2 335.8 L150.6 335.8 L149.0 335.8 L147.5 335.8 L146.1 335.8 L144.6 335.8 L143.3 335.8 L141.9 335.9 L140.6 335.9 L139.3 335.9 L138.0 335.9 L136.8 335.9 L135.6 335.9 L134.5 335.9 L133.3 335.9 L132.2 335.9 L131.1 335.9 L130.1 336.0 L129.0 336.0 L128.0 336.0 L127.1 336.0 L126.1 336.0 L125.1 336.0 L124.2 336.0 L123.3 336.0 L122.4 336.0 L121.6 336.0 L120.7 336.0 L119.9 336.1 L119.1 336.1 L117.5 336.1 L116.0 336.1 L114.5 336.1 L113.2 336.1 L111.8 336.2 L110.5 336.2 L109.3 336.2 L108.1 336.2 L106.9 336.2 L105.8 336.3 L104.7 336.3 L103.7 336.3 L102.7 336.3 L101.7 336.3 L100.7 336.4 L99.8 336.4 L99.0 336.4 L98.1 336.4 L97.3 336.4 L96.5 336.5 L95.3 336.5 L94.2 336.5 L93.1 336.5 L92.1 336.6 L91.2 336.6 L90.2 336.6 L89.3 336.6 L88.5 336.7 L87.6 336.7 L86.6 336.7 L85.6 336.8 L84.7 336.8 L83.8 336.9 L82.9 336.9 L82.1 336.9 L81.1 337.0 L80.2 337.0 L79.3 337.1 L78.5 337.1 L77.6 337.2 L76.7 337.2 L75.9 337.3 L75.0 337.3 L74.2 337.4 L73.3 337.5 L72.5 337.5 L71.7 337.6 L70.8 337.7 L70.0 337.8 L69.1 337.9 L68.3 338.0 L67.5 338.1 L66.7 338.3 L65.9 338.4 L65.1 338.6 L64.3 338.8 L63.5 339.0 L62.7 339.3 L62.0 339.6 L61.3 340.0 L60.7 340.5 L60.2 341.2 L59.9 341.9 L59.7 342.7 L59.6 343.5 L59.5 344.3 L59.5 345.1 L59.5 345.9 L59.5 346.7 L59.5 347.5 L59.5 348.3 L59.5 349.1 L59.5 349.9 L59.5 350.3" stroke="#ff8000" stroke-width="2.8" stroke-dasharray="4 3.967" stroke-dashoffset="2.00"/>
</g>
<g stroke="#666" stroke-width="1"><line x1="59.5" y1="350.4" x2="59.5" y2="343.9"/><line x1="59.5" y1="11.7" x2="59.5" y2="18.2"/><line x1="82.0" y1="350.4" x2="82.0" y2="346.5"/><line x1="82.0" y1="11.7" x2="82.0" y2="15.6"/><line x1="104.6" y1="350.4" x2="104.6" y2="346.5"/><line x1="104.6" y1="11.7" x2="104.6" y2="15.6"/><line x1="127.2" y1="350.4" x2="127.2" y2="346.5"/><line x1="127.2" y1="11.7" x2="127.2" y2="15.6"/><line x1="149.7" y1="350.4" x2="149.7" y2="346.5"/><line x1="149.7" y1="11.7" x2="149.7" y2="15.6"/><line x1="172.2" y1="350.4" x2="172.2" y2="343.9"/><line x1="172.2" y1="11.7" x2="172.2" y2="18.2"/><line x1="194.8" y1="350.4" x2="194.8" y2="346.5"/><line x1="194.8" y1="11.7" x2="194.8" y2="15.6"/><line x1="217.3" y1="350.4" x2="217.3" y2="346.5"/><line x1="217.3" y1="11.7" x2="217.3" y2="15.6"/><line x1="239.9" y1="350.4" x2="239.9" y2="346.5"/><line x1="239.9" y1="11.7" x2="239.9" y2="15.6"/><line x1="262.4" y1="350.4" x2="262.4" y2="346.5"/><line x1="262.4" y1="11.7" x2="262.4" y2="15.6"/><line x1="285.0" y1="350.4" x2="285.0" y2="343.9"/><line x1="285.0" y1="11.7" x2="285.0" y2="18.2"/><line x1="307.6" y1="350.4" x2="307.6" y2="346.5"/><line x1="307.6" y1="11.7" x2="307.6" y2="15.6"/><line x1="330.1" y1="350.4" x2="330.1" y2="346.5"/><line x1="330.1" y1="11.7" x2="330.1" y2="15.6"/><line x1="352.6" y1="350.4" x2="352.6" y2="346.5"/><line x1="352.6" y1="11.7" x2="352.6" y2="15.6"/><line x1="375.2" y1="350.4" x2="375.2" y2="346.5"/><line x1="375.2" y1="11.7" x2="375.2" y2="15.6"/><line x1="397.8" y1="350.4" x2="397.8" y2="343.9"/><line x1="397.8" y1="11.7" x2="397.8" y2="18.2"/><line x1="420.3" y1="350.4" x2="420.3" y2="346.5"/><line x1="420.3" y1="11.7" x2="420.3" y2="15.6"/><line x1="442.9" y1="350.4" x2="442.9" y2="346.5"/><line x1="442.9" y1="11.7" x2="442.9" y2="15.6"/><line x1="465.4" y1="350.4" x2="465.4" y2="346.5"/><line x1="465.4" y1="11.7" x2="465.4" y2="15.6"/><line x1="487.9" y1="350.4" x2="487.9" y2="346.5"/><line x1="487.9" y1="11.7" x2="487.9" y2="15.6"/><line x1="510.5" y1="350.4" x2="510.5" y2="343.9"/><line x1="510.5" y1="11.7" x2="510.5" y2="18.2"/><line x1="533.0" y1="350.4" x2="533.0" y2="346.5"/><line x1="533.0" y1="11.7" x2="533.0" y2="15.6"/><line x1="555.6" y1="350.4" x2="555.6" y2="346.5"/><line x1="555.6" y1="11.7" x2="555.6" y2="15.6"/><line x1="578.1" y1="350.4" x2="578.1" y2="346.5"/><line x1="578.1" y1="11.7" x2="578.1" y2="15.6"/><line x1="600.7" y1="350.4" x2="600.7" y2="346.5"/><line x1="600.7" y1="11.7" x2="600.7" y2="15.6"/><line x1="623.2" y1="350.4" x2="623.2" y2="343.9"/><line x1="623.2" y1="11.7" x2="623.2" y2="18.2"/><line x1="645.8" y1="350.4" x2="645.8" y2="346.5"/><line x1="645.8" y1="11.7" x2="645.8" y2="15.6"/><line x1="668.4" y1="350.4" x2="668.4" y2="346.5"/><line x1="668.4" y1="11.7" x2="668.4" y2="15.6"/><line x1="690.9" y1="350.4" x2="690.9" y2="346.5"/><line x1="690.9" y1="11.7" x2="690.9" y2="15.6"/><line x1="713.5" y1="350.4" x2="713.5" y2="346.5"/><line x1="713.5" y1="11.7" x2="713.5" y2="15.6"/><line x1="736.0" y1="350.4" x2="736.0" y2="343.9"/><line x1="736.0" y1="11.7" x2="736.0" y2="18.2"/><line x1="59.5" y1="350.4" x2="66.0" y2="350.4"/><line x1="735.7" y1="350.4" x2="729.2" y2="350.4"/><line x1="59.5" y1="333.5" x2="63.4" y2="333.5"/><line x1="735.7" y1="333.5" x2="731.8" y2="333.5"/><line x1="59.5" y1="316.5" x2="63.4" y2="316.5"/><line x1="735.7" y1="316.5" x2="731.8" y2="316.5"/><line x1="59.5" y1="299.6" x2="63.4" y2="299.6"/><line x1="735.7" y1="299.6" x2="731.8" y2="299.6"/><line x1="59.5" y1="282.7" x2="66.0" y2="282.7"/><line x1="735.7" y1="282.7" x2="729.2" y2="282.7"/><line x1="59.5" y1="265.7" x2="63.4" y2="265.7"/><line x1="735.7" y1="265.7" x2="731.8" y2="265.7"/><line x1="59.5" y1="248.8" x2="63.4" y2="248.8"/><line x1="735.7" y1="248.8" x2="731.8" y2="248.8"/><line x1="59.5" y1="231.9" x2="63.4" y2="231.9"/><line x1="735.7" y1="231.9" x2="731.8" y2="231.9"/><line x1="59.5" y1="214.9" x2="66.0" y2="214.9"/><line x1="735.7" y1="214.9" x2="729.2" y2="214.9"/><line x1="59.5" y1="198.0" x2="63.4" y2="198.0"/><line x1="735.7" y1="198.0" x2="731.8" y2="198.0"/><line x1="59.5" y1="181.0" x2="63.4" y2="181.0"/><line x1="735.7" y1="181.0" x2="731.8" y2="181.0"/><line x1="59.5" y1="164.1" x2="63.4" y2="164.1"/><line x1="735.7" y1="164.1" x2="731.8" y2="164.1"/><line x1="59.5" y1="147.2" x2="66.0" y2="147.2"/><line x1="735.7" y1="147.2" x2="729.2" y2="147.2"/><line x1="59.5" y1="130.2" x2="63.4" y2="130.2"/><line x1="735.7" y1="130.2" x2="731.8" y2="130.2"/><line x1="59.5" y1="113.3" x2="63.4" y2="113.3"/><line x1="735.7" y1="113.3" x2="731.8" y2="113.3"/><line x1="59.5" y1="96.4" x2="63.4" y2="96.4"/><line x1="735.7" y1="96.4" x2="731.8" y2="96.4"/><line x1="59.5" y1="79.4" x2="66.0" y2="79.4"/><line x1="735.7" y1="79.4" x2="729.2" y2="79.4"/><line x1="59.5" y1="62.5" x2="63.4" y2="62.5"/><line x1="735.7" y1="62.5" x2="731.8" y2="62.5"/><line x1="59.5" y1="45.6" x2="63.4" y2="45.6"/><line x1="735.7" y1="45.6" x2="731.8" y2="45.6"/><line x1="59.5" y1="28.6" x2="63.4" y2="28.6"/><line x1="735.7" y1="28.6" x2="731.8" y2="28.6"/><line x1="59.5" y1="11.7" x2="66.0" y2="11.7"/><line x1="735.7" y1="11.7" x2="729.2" y2="11.7"/><rect x="59.5" y="11.7" width="676.2" height="338.7" fill="none"/></g>
<g style="opacity:0.999"><text transform="translate(59.3,375.1) scale(1,1.040)" font-size="19.4" text-anchor="middle">0</text><text transform="translate(172.1,375.1) scale(1,1.040)" font-size="19.4" text-anchor="middle">5</text><text transform="translate(284.8,375.1) scale(1,1.040)" font-size="19.4" text-anchor="middle">10</text><text transform="translate(397.6,375.1) scale(1,1.040)" font-size="19.4" text-anchor="middle">15</text><text transform="translate(510.3,375.1) scale(1,1.040)" font-size="19.4" text-anchor="middle">20</text><text transform="translate(623.0,375.1) scale(1,1.040)" font-size="19.4" text-anchor="middle">25</text><text transform="translate(735.8,375.1) scale(1,1.040)" font-size="19.4" text-anchor="middle">30</text><text transform="translate(54.6,357.9) scale(1,1.040)" font-size="19.4" text-anchor="end">0</text><text transform="translate(54.6,290.2) scale(1,1.040)" font-size="19.4" text-anchor="end">2</text><text transform="translate(54.6,222.4) scale(1,1.040)" font-size="19.4" text-anchor="end">4</text><text transform="translate(54.6,154.7) scale(1,1.040)" font-size="19.4" text-anchor="end">6</text><text transform="translate(54.6,86.9) scale(1,1.040)" font-size="19.4" text-anchor="end">8</text><text transform="translate(54.6,19.2) scale(1,1.040)" font-size="19.4" text-anchor="end">10</text>
<text transform="translate(398.1,408.1) scale(1,1.040)" font-size="16.7" text-anchor="middle" font-style="italic">τ</text>
<text transform="translate(19.6,182.2) rotate(-90)" font-size="18" font-style="italic" text-anchor="middle">r<tspan font-size="12.5" dy="4" font-style="normal" font-weight="normal">+</tspan></text>
<line x1="564.6" y1="76.4" x2="628.2" y2="76.4" stroke="#808080" stroke-width="3.0"/><text transform="translate(638.0,82.6) scale(1,1.040)" font-size="18.7" text-anchor="start">Q=0.1</text>
<line x1="564.6" y1="110.9" x2="628.2" y2="110.9" stroke="#ff0000" stroke-width="2.9"/><text transform="translate(638.0,117.1) scale(1,1.040)" font-size="18.7" text-anchor="start">Q=0.3</text>
<line x1="564.6" y1="145.4" x2="628.2" y2="145.4" stroke="#0000ff" stroke-width="2.8" stroke-dasharray="9 3.75"/><text transform="translate(638.0,151.6) scale(1,1.040)" font-size="18.7" text-anchor="start">Q=0.6</text>
<line x1="564.6" y1="179.9" x2="628.2" y2="179.9" stroke="#00ff00" stroke-width="2.8" stroke-dasharray="9 3.75"/><text transform="translate(638.0,186.1) scale(1,1.040)" font-size="18.7" text-anchor="start">Q=0.9</text>
<line x1="564.6" y1="214.3" x2="628.2" y2="214.3" stroke="#ff8000" stroke-width="2.8" stroke-dasharray="4 4"/><text transform="translate(638.0,220.5) scale(1,1.040)" font-size="18.7" text-anchor="start">Q=1.2</text>
</g></svg></body></html>
